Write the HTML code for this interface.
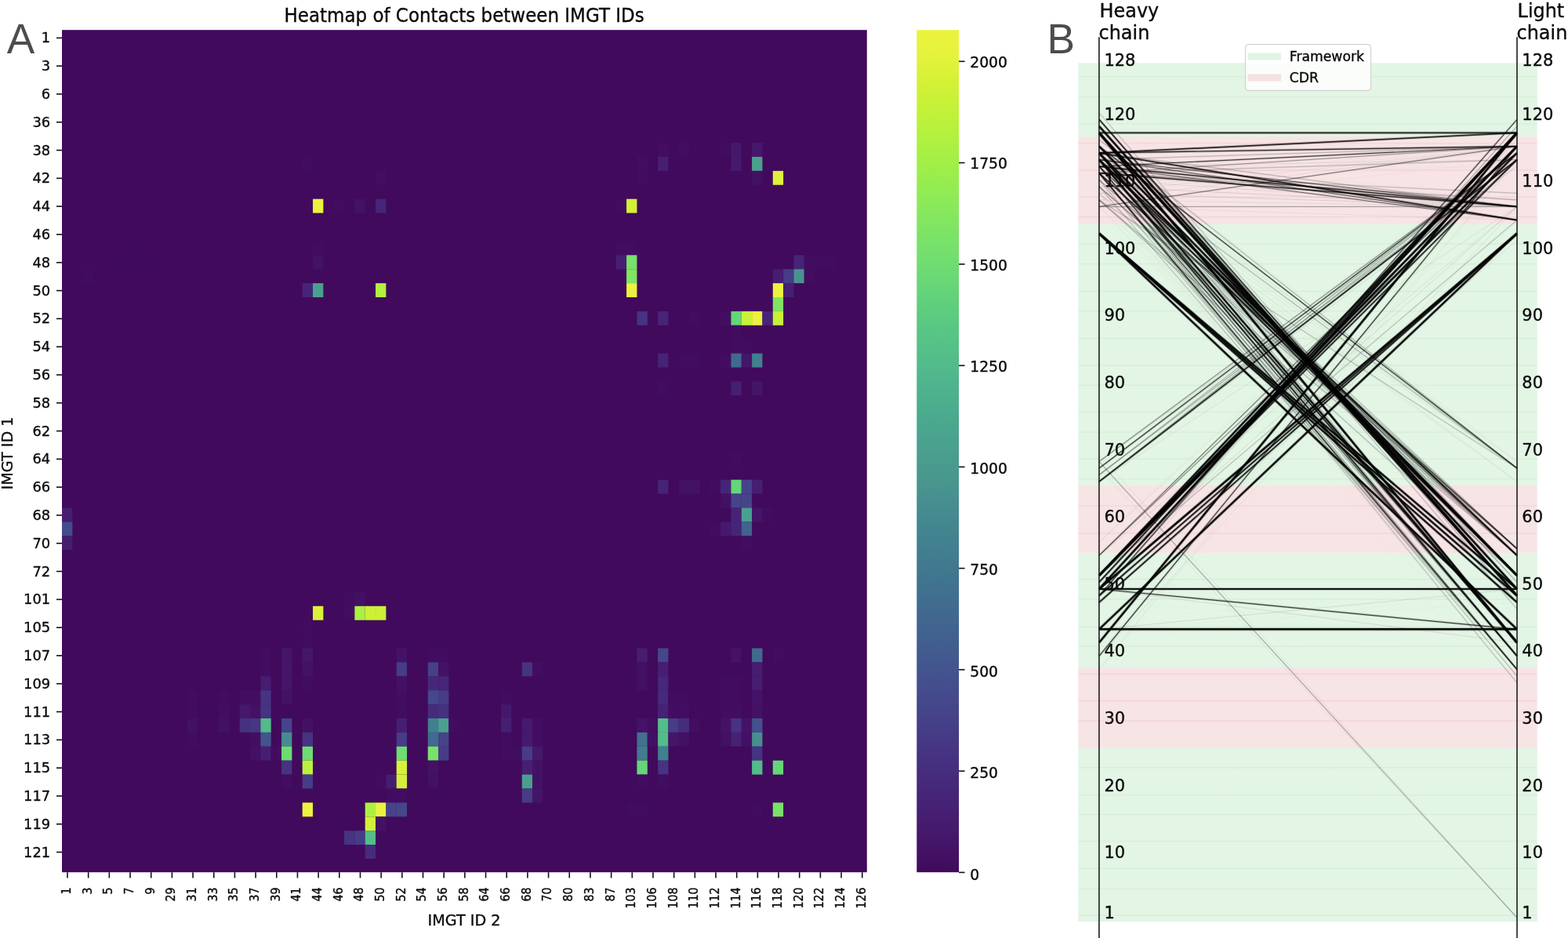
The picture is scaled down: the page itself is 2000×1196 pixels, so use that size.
<!DOCTYPE html>
<html lang="en"><head><meta charset="utf-8"><title>Heatmap of Contacts between IMGT IDs</title>
<style>
html,body{margin:0;padding:0;background:#fff;}
body{width:2000px;height:1196px;overflow:hidden;}
svg{display:block;font-family:"DejaVu Sans", "Liberation Sans", sans-serif;}
text{fill:#0a0a0a;stroke:#0a0a0a;stroke-width:0.35px;stroke-linejoin:round;}
.pl{fill:#4d4d4d;stroke:none;font-size:53.3px;font-family:"Liberation Sans","DejaVu Sans",sans-serif;}
.yt{font-size:17.9px;text-anchor:end;}
.xt{font-size:14.2px;text-anchor:end;}
.ct{font-size:18.8px;}
.al{font-size:19.2px;text-anchor:middle;}
.ti{font-size:23px;text-anchor:middle;}
.pt{font-size:21px;}
.ph{font-size:23.9px;}
.lg{font-size:17.2px;}
.tk{stroke:#111;stroke-width:1.6;}
.ln{stroke:#000;stroke-linecap:butt;}
</style></head><body>
<svg width="2000" height="1196" viewBox="0 0 2000 1196">
<defs><linearGradient id="cb" x1="0" y1="1" x2="0" y2="0">
<stop offset="0.0000" stop-color="#410a5c"/>
<stop offset="0.0312" stop-color="#441467"/>
<stop offset="0.0625" stop-color="#461d70"/>
<stop offset="0.0938" stop-color="#462578"/>
<stop offset="0.1250" stop-color="#462e7f"/>
<stop offset="0.1562" stop-color="#463885"/>
<stop offset="0.1875" stop-color="#454389"/>
<stop offset="0.2188" stop-color="#444d8d"/>
<stop offset="0.2500" stop-color="#42578e"/>
<stop offset="0.2812" stop-color="#41618f"/>
<stop offset="0.3125" stop-color="#416a8f"/>
<stop offset="0.3438" stop-color="#40738f"/>
<stop offset="0.3750" stop-color="#417c8f"/>
<stop offset="0.4062" stop-color="#43858f"/>
<stop offset="0.4375" stop-color="#468e8f"/>
<stop offset="0.4688" stop-color="#49978e"/>
<stop offset="0.5000" stop-color="#4a9f8e"/>
<stop offset="0.5312" stop-color="#4aa78e"/>
<stop offset="0.5625" stop-color="#4cb08d"/>
<stop offset="0.5938" stop-color="#51b88c"/>
<stop offset="0.6250" stop-color="#55c187"/>
<stop offset="0.6562" stop-color="#5bca81"/>
<stop offset="0.6875" stop-color="#63d37a"/>
<stop offset="0.7188" stop-color="#6edc72"/>
<stop offset="0.7500" stop-color="#79e269"/>
<stop offset="0.7812" stop-color="#86e75e"/>
<stop offset="0.8125" stop-color="#93ec52"/>
<stop offset="0.8438" stop-color="#a2ef46"/>
<stop offset="0.8750" stop-color="#b3f13f"/>
<stop offset="0.9062" stop-color="#c4f139"/>
<stop offset="0.9375" stop-color="#d4f136"/>
<stop offset="0.9688" stop-color="#e4f23c"/>
<stop offset="1.0000" stop-color="#ecf33e"/>
</linearGradient>
<filter id="soft" x="-5%" y="-5%" width="110%" height="110%"><feGaussianBlur stdDeviation="0.45"/></filter></defs>
<rect width="2000" height="1196" fill="#fff"/>
<g id="panelA">
<text class="pl" x="8.8" y="67.8">A</text>
<text class="ti" transform="translate(592.1,28.3) scale(1,1.045)">Heatmap of Contacts between IMGT IDs</text>
<g id="heatmap">
<rect x="79.00" y="38.20" width="1026.80" height="1074.00" fill="#410a5c"/>
<rect x="839.10" y="182.10" width="13.34" height="17.90" fill="#430e61"/>
<rect x="865.77" y="182.10" width="13.34" height="17.90" fill="#430e61"/>
<rect x="919.11" y="182.10" width="13.34" height="17.90" fill="#420d60"/>
<rect x="932.44" y="182.10" width="13.34" height="17.90" fill="#45186b"/>
<rect x="959.11" y="182.10" width="13.34" height="17.90" fill="#45186b"/>
<rect x="385.71" y="200.00" width="13.34" height="17.90" fill="#420d60"/>
<rect x="812.43" y="200.00" width="13.34" height="17.90" fill="#430e61"/>
<rect x="839.10" y="200.00" width="13.34" height="17.90" fill="#461f72"/>
<rect x="932.44" y="200.00" width="13.34" height="17.90" fill="#451a6e"/>
<rect x="959.11" y="200.00" width="13.34" height="17.90" fill="#4aa08e"/>
<rect x="479.05" y="217.90" width="13.34" height="17.90" fill="#430e61"/>
<rect x="812.43" y="217.90" width="13.34" height="17.90" fill="#420d60"/>
<rect x="959.11" y="217.90" width="13.34" height="17.90" fill="#431164"/>
<rect x="985.78" y="217.90" width="13.34" height="17.90" fill="#e0f13c"/>
<rect x="399.04" y="253.70" width="13.34" height="17.90" fill="#ecf33e"/>
<rect x="425.71" y="253.70" width="13.34" height="17.90" fill="#420d60"/>
<rect x="452.38" y="253.70" width="13.34" height="17.90" fill="#441265"/>
<rect x="479.05" y="253.70" width="13.34" height="17.90" fill="#462578"/>
<rect x="785.76" y="253.70" width="13.34" height="17.90" fill="#420d60"/>
<rect x="799.09" y="253.70" width="13.34" height="17.90" fill="#d4f137"/>
<rect x="159.01" y="307.40" width="13.34" height="17.90" fill="#410b5d"/>
<rect x="172.35" y="307.40" width="13.34" height="17.90" fill="#410b5d"/>
<rect x="399.04" y="307.40" width="13.34" height="17.90" fill="#420d60"/>
<rect x="785.76" y="307.40" width="13.34" height="17.90" fill="#420d60"/>
<rect x="799.09" y="307.40" width="13.34" height="17.90" fill="#420d60"/>
<rect x="145.68" y="325.30" width="13.34" height="17.90" fill="#410b5d"/>
<rect x="159.01" y="325.30" width="13.34" height="17.90" fill="#410b5d"/>
<rect x="185.68" y="325.30" width="13.34" height="17.90" fill="#410b5d"/>
<rect x="399.04" y="325.30" width="13.34" height="17.90" fill="#441265"/>
<rect x="785.76" y="325.30" width="13.34" height="17.90" fill="#461f72"/>
<rect x="799.09" y="325.30" width="13.34" height="17.90" fill="#77e16a"/>
<rect x="1012.45" y="325.30" width="13.34" height="17.90" fill="#462578"/>
<rect x="1025.79" y="325.30" width="13.34" height="17.90" fill="#420d60"/>
<rect x="1039.12" y="325.30" width="13.34" height="17.90" fill="#420d60"/>
<rect x="1052.46" y="325.30" width="13.34" height="17.90" fill="#420d60"/>
<rect x="92.34" y="343.20" width="13.34" height="17.90" fill="#410b5d"/>
<rect x="105.67" y="343.20" width="13.34" height="17.90" fill="#420c5f"/>
<rect x="119.01" y="343.20" width="13.34" height="17.90" fill="#410b5d"/>
<rect x="145.68" y="343.20" width="13.34" height="17.90" fill="#410b5d"/>
<rect x="799.09" y="343.20" width="13.34" height="17.90" fill="#80e562"/>
<rect x="985.78" y="343.20" width="13.34" height="17.90" fill="#461d70"/>
<rect x="999.12" y="343.20" width="13.34" height="17.90" fill="#463c87"/>
<rect x="1012.45" y="343.20" width="13.34" height="17.90" fill="#48938f"/>
<rect x="1025.79" y="343.20" width="13.34" height="17.90" fill="#420d60"/>
<rect x="385.71" y="361.10" width="13.34" height="17.90" fill="#462578"/>
<rect x="399.04" y="361.10" width="13.34" height="17.90" fill="#4aa08e"/>
<rect x="479.05" y="361.10" width="13.34" height="17.90" fill="#b3f03f"/>
<rect x="799.09" y="361.10" width="13.34" height="17.90" fill="#ecf33e"/>
<rect x="985.78" y="361.10" width="13.34" height="17.90" fill="#ecf33e"/>
<rect x="999.12" y="361.10" width="13.34" height="17.90" fill="#461f72"/>
<rect x="79.00" y="379.00" width="13.34" height="17.90" fill="#410b5d"/>
<rect x="985.78" y="379.00" width="13.34" height="17.90" fill="#80e562"/>
<rect x="812.43" y="396.90" width="13.34" height="17.90" fill="#463382"/>
<rect x="839.10" y="396.90" width="13.34" height="17.90" fill="#462578"/>
<rect x="879.10" y="396.90" width="13.34" height="17.90" fill="#420d60"/>
<rect x="919.11" y="396.90" width="13.34" height="17.90" fill="#430e61"/>
<rect x="932.44" y="396.90" width="13.34" height="17.90" fill="#65d678"/>
<rect x="945.78" y="396.90" width="13.34" height="17.90" fill="#c8f138"/>
<rect x="959.11" y="396.90" width="13.34" height="17.90" fill="#ecf33e"/>
<rect x="972.45" y="396.90" width="13.34" height="17.90" fill="#462578"/>
<rect x="985.78" y="396.90" width="13.34" height="17.90" fill="#c8f138"/>
<rect x="932.44" y="414.80" width="13.34" height="17.90" fill="#420d60"/>
<rect x="932.44" y="432.70" width="13.34" height="17.90" fill="#420d60"/>
<rect x="945.78" y="432.70" width="13.34" height="17.90" fill="#420d60"/>
<rect x="839.10" y="450.60" width="13.34" height="17.90" fill="#462376"/>
<rect x="865.77" y="450.60" width="13.34" height="17.90" fill="#420d60"/>
<rect x="879.10" y="450.60" width="13.34" height="17.90" fill="#420d60"/>
<rect x="919.11" y="450.60" width="13.34" height="17.90" fill="#420d60"/>
<rect x="932.44" y="450.60" width="13.34" height="17.90" fill="#416a8f"/>
<rect x="945.78" y="450.60" width="13.34" height="17.90" fill="#451669"/>
<rect x="959.11" y="450.60" width="13.34" height="17.90" fill="#427f8f"/>
<rect x="839.10" y="486.40" width="13.34" height="17.90" fill="#420d60"/>
<rect x="932.44" y="486.40" width="13.34" height="17.90" fill="#461f72"/>
<rect x="959.11" y="486.40" width="13.34" height="17.90" fill="#441568"/>
<rect x="932.44" y="575.90" width="13.34" height="17.90" fill="#420d60"/>
<rect x="839.10" y="611.70" width="13.34" height="17.90" fill="#462376"/>
<rect x="865.77" y="611.70" width="13.34" height="17.90" fill="#441265"/>
<rect x="879.10" y="611.70" width="13.34" height="17.90" fill="#441265"/>
<rect x="905.77" y="611.70" width="13.34" height="17.90" fill="#420d60"/>
<rect x="919.11" y="611.70" width="13.34" height="17.90" fill="#462578"/>
<rect x="932.44" y="611.70" width="13.34" height="17.90" fill="#65d678"/>
<rect x="945.78" y="611.70" width="13.34" height="17.90" fill="#45448a"/>
<rect x="959.11" y="611.70" width="13.34" height="17.90" fill="#461f72"/>
<rect x="919.11" y="629.60" width="13.34" height="17.90" fill="#431164"/>
<rect x="932.44" y="629.60" width="13.34" height="17.90" fill="#45448a"/>
<rect x="945.78" y="629.60" width="13.34" height="17.90" fill="#45448a"/>
<rect x="79.00" y="647.50" width="13.34" height="17.90" fill="#461d70"/>
<rect x="932.44" y="647.50" width="13.34" height="17.90" fill="#462376"/>
<rect x="945.78" y="647.50" width="13.34" height="17.90" fill="#4aa08e"/>
<rect x="959.11" y="647.50" width="13.34" height="17.90" fill="#441568"/>
<rect x="972.45" y="647.50" width="13.34" height="17.90" fill="#420d60"/>
<rect x="79.00" y="665.40" width="13.34" height="17.90" fill="#444c8c"/>
<rect x="905.77" y="665.40" width="13.34" height="17.90" fill="#420d60"/>
<rect x="919.11" y="665.40" width="13.34" height="17.90" fill="#451a6e"/>
<rect x="932.44" y="665.40" width="13.34" height="17.90" fill="#462578"/>
<rect x="945.78" y="665.40" width="13.34" height="17.90" fill="#42628f"/>
<rect x="79.00" y="683.30" width="13.34" height="17.90" fill="#461e71"/>
<rect x="945.78" y="683.30" width="13.34" height="17.90" fill="#420d60"/>
<rect x="439.05" y="754.90" width="13.34" height="17.90" fill="#420d60"/>
<rect x="452.38" y="754.90" width="13.34" height="17.90" fill="#431164"/>
<rect x="399.04" y="772.80" width="13.34" height="17.90" fill="#dcf139"/>
<rect x="439.05" y="772.80" width="13.34" height="17.90" fill="#430e61"/>
<rect x="452.38" y="772.80" width="13.34" height="17.90" fill="#acf042"/>
<rect x="465.72" y="772.80" width="13.34" height="17.90" fill="#ccf137"/>
<rect x="479.05" y="772.80" width="13.34" height="17.90" fill="#ccf137"/>
<rect x="385.71" y="790.70" width="13.34" height="17.90" fill="#420c5f"/>
<rect x="385.71" y="808.60" width="13.34" height="17.90" fill="#420c5f"/>
<rect x="332.37" y="826.50" width="13.34" height="17.90" fill="#420d60"/>
<rect x="359.04" y="826.50" width="13.34" height="17.90" fill="#441568"/>
<rect x="385.71" y="826.50" width="13.34" height="17.90" fill="#45176a"/>
<rect x="505.72" y="826.50" width="13.34" height="17.90" fill="#441367"/>
<rect x="545.73" y="826.50" width="13.34" height="17.90" fill="#420d60"/>
<rect x="559.06" y="826.50" width="13.34" height="17.90" fill="#420d60"/>
<rect x="812.43" y="826.50" width="13.34" height="17.90" fill="#461d70"/>
<rect x="839.10" y="826.50" width="13.34" height="17.90" fill="#45478b"/>
<rect x="932.44" y="826.50" width="13.34" height="17.90" fill="#441367"/>
<rect x="959.11" y="826.50" width="13.34" height="17.90" fill="#416a8f"/>
<rect x="985.78" y="826.50" width="13.34" height="17.90" fill="#420c5f"/>
<rect x="332.37" y="844.40" width="13.34" height="17.90" fill="#430e61"/>
<rect x="359.04" y="844.40" width="13.34" height="17.90" fill="#441568"/>
<rect x="385.71" y="844.40" width="13.34" height="17.90" fill="#441265"/>
<rect x="505.72" y="844.40" width="13.34" height="17.90" fill="#463c87"/>
<rect x="545.73" y="844.40" width="13.34" height="17.90" fill="#464088"/>
<rect x="559.06" y="844.40" width="13.34" height="17.90" fill="#441265"/>
<rect x="665.74" y="844.40" width="13.34" height="17.90" fill="#463382"/>
<rect x="679.08" y="844.40" width="13.34" height="17.90" fill="#430e61"/>
<rect x="812.43" y="844.40" width="13.34" height="17.90" fill="#431164"/>
<rect x="839.10" y="844.40" width="13.34" height="17.90" fill="#461f72"/>
<rect x="959.11" y="844.40" width="13.34" height="17.90" fill="#461d70"/>
<rect x="332.37" y="862.30" width="13.34" height="17.90" fill="#461d70"/>
<rect x="359.04" y="862.30" width="13.34" height="17.90" fill="#441568"/>
<rect x="385.71" y="862.30" width="13.34" height="17.90" fill="#420d60"/>
<rect x="505.72" y="862.30" width="13.34" height="17.90" fill="#431164"/>
<rect x="545.73" y="862.30" width="13.34" height="17.90" fill="#46287b"/>
<rect x="559.06" y="862.30" width="13.34" height="17.90" fill="#462578"/>
<rect x="812.43" y="862.30" width="13.34" height="17.90" fill="#431164"/>
<rect x="839.10" y="862.30" width="13.34" height="17.90" fill="#46287b"/>
<rect x="919.11" y="862.30" width="13.34" height="17.90" fill="#420c5f"/>
<rect x="932.44" y="862.30" width="13.34" height="17.90" fill="#420c5f"/>
<rect x="959.11" y="862.30" width="13.34" height="17.90" fill="#461d70"/>
<rect x="239.02" y="880.20" width="13.34" height="17.90" fill="#420c5f"/>
<rect x="279.03" y="880.20" width="13.34" height="17.90" fill="#420c5f"/>
<rect x="305.70" y="880.20" width="13.34" height="17.90" fill="#430e61"/>
<rect x="319.03" y="880.20" width="13.34" height="17.90" fill="#430e61"/>
<rect x="332.37" y="880.20" width="13.34" height="17.90" fill="#463382"/>
<rect x="359.04" y="880.20" width="13.34" height="17.90" fill="#441265"/>
<rect x="505.72" y="880.20" width="13.34" height="17.90" fill="#430e61"/>
<rect x="545.73" y="880.20" width="13.34" height="17.90" fill="#45478b"/>
<rect x="559.06" y="880.20" width="13.34" height="17.90" fill="#463c87"/>
<rect x="639.07" y="880.20" width="13.34" height="17.90" fill="#420d60"/>
<rect x="839.10" y="880.20" width="13.34" height="17.90" fill="#46297b"/>
<rect x="852.43" y="880.20" width="13.34" height="17.90" fill="#420c5f"/>
<rect x="865.77" y="880.20" width="13.34" height="17.90" fill="#420c5f"/>
<rect x="919.11" y="880.20" width="13.34" height="17.90" fill="#420c5f"/>
<rect x="932.44" y="880.20" width="13.34" height="17.90" fill="#420c5f"/>
<rect x="959.11" y="880.20" width="13.34" height="17.90" fill="#441367"/>
<rect x="239.02" y="898.10" width="13.34" height="17.90" fill="#420d60"/>
<rect x="279.03" y="898.10" width="13.34" height="17.90" fill="#430e61"/>
<rect x="305.70" y="898.10" width="13.34" height="17.90" fill="#45186b"/>
<rect x="319.03" y="898.10" width="13.34" height="17.90" fill="#441265"/>
<rect x="332.37" y="898.10" width="13.34" height="17.90" fill="#463382"/>
<rect x="505.72" y="898.10" width="13.34" height="17.90" fill="#420d60"/>
<rect x="545.73" y="898.10" width="13.34" height="17.90" fill="#462b7d"/>
<rect x="559.06" y="898.10" width="13.34" height="17.90" fill="#463080"/>
<rect x="639.07" y="898.10" width="13.34" height="17.90" fill="#45186b"/>
<rect x="839.10" y="898.10" width="13.34" height="17.90" fill="#462174"/>
<rect x="852.43" y="898.10" width="13.34" height="17.90" fill="#430e61"/>
<rect x="865.77" y="898.10" width="13.34" height="17.90" fill="#430e61"/>
<rect x="919.11" y="898.10" width="13.34" height="17.90" fill="#430e61"/>
<rect x="932.44" y="898.10" width="13.34" height="17.90" fill="#430e61"/>
<rect x="959.11" y="898.10" width="13.34" height="17.90" fill="#441265"/>
<rect x="239.02" y="916.00" width="13.34" height="17.90" fill="#431164"/>
<rect x="279.03" y="916.00" width="13.34" height="17.90" fill="#431164"/>
<rect x="305.70" y="916.00" width="13.34" height="17.90" fill="#463080"/>
<rect x="319.03" y="916.00" width="13.34" height="17.90" fill="#463784"/>
<rect x="332.37" y="916.00" width="13.34" height="17.90" fill="#53ba8b"/>
<rect x="359.04" y="916.00" width="13.34" height="17.90" fill="#45448a"/>
<rect x="385.71" y="916.00" width="13.34" height="17.90" fill="#431164"/>
<rect x="505.72" y="916.00" width="13.34" height="17.90" fill="#461f72"/>
<rect x="545.73" y="916.00" width="13.34" height="17.90" fill="#427f8f"/>
<rect x="559.06" y="916.00" width="13.34" height="17.90" fill="#4aa08e"/>
<rect x="572.40" y="916.00" width="13.34" height="17.90" fill="#420d60"/>
<rect x="639.07" y="916.00" width="13.34" height="17.90" fill="#461f72"/>
<rect x="665.74" y="916.00" width="13.34" height="17.90" fill="#451a6e"/>
<rect x="679.08" y="916.00" width="13.34" height="17.90" fill="#430e61"/>
<rect x="812.43" y="916.00" width="13.34" height="17.90" fill="#441367"/>
<rect x="825.76" y="916.00" width="13.34" height="17.90" fill="#430e61"/>
<rect x="839.10" y="916.00" width="13.34" height="17.90" fill="#53be89"/>
<rect x="852.43" y="916.00" width="13.34" height="17.90" fill="#463c87"/>
<rect x="865.77" y="916.00" width="13.34" height="17.90" fill="#462b7d"/>
<rect x="879.10" y="916.00" width="13.34" height="17.90" fill="#430e61"/>
<rect x="919.11" y="916.00" width="13.34" height="17.90" fill="#441367"/>
<rect x="932.44" y="916.00" width="13.34" height="17.90" fill="#463382"/>
<rect x="945.78" y="916.00" width="13.34" height="17.90" fill="#441367"/>
<rect x="959.11" y="916.00" width="13.34" height="17.90" fill="#43518d"/>
<rect x="239.02" y="933.90" width="13.34" height="17.90" fill="#420d60"/>
<rect x="319.03" y="933.90" width="13.34" height="17.90" fill="#430e61"/>
<rect x="332.37" y="933.90" width="13.34" height="17.90" fill="#43538e"/>
<rect x="359.04" y="933.90" width="13.34" height="17.90" fill="#468c8f"/>
<rect x="385.71" y="933.90" width="13.34" height="17.90" fill="#463382"/>
<rect x="505.72" y="933.90" width="13.34" height="17.90" fill="#463c87"/>
<rect x="545.73" y="933.90" width="13.34" height="17.90" fill="#416a8f"/>
<rect x="559.06" y="933.90" width="13.34" height="17.90" fill="#45448a"/>
<rect x="639.07" y="933.90" width="13.34" height="17.90" fill="#420d60"/>
<rect x="665.74" y="933.90" width="13.34" height="17.90" fill="#451a6e"/>
<rect x="679.08" y="933.90" width="13.34" height="17.90" fill="#430e61"/>
<rect x="812.43" y="933.90" width="13.34" height="17.90" fill="#40718f"/>
<rect x="825.76" y="933.90" width="13.34" height="17.90" fill="#431164"/>
<rect x="839.10" y="933.90" width="13.34" height="17.90" fill="#53be89"/>
<rect x="852.43" y="933.90" width="13.34" height="17.90" fill="#441568"/>
<rect x="865.77" y="933.90" width="13.34" height="17.90" fill="#431164"/>
<rect x="919.11" y="933.90" width="13.34" height="17.90" fill="#431164"/>
<rect x="932.44" y="933.90" width="13.34" height="17.90" fill="#462174"/>
<rect x="945.78" y="933.90" width="13.34" height="17.90" fill="#431164"/>
<rect x="959.11" y="933.90" width="13.34" height="17.90" fill="#478f8f"/>
<rect x="319.03" y="951.80" width="13.34" height="17.90" fill="#431164"/>
<rect x="332.37" y="951.80" width="13.34" height="17.90" fill="#461f72"/>
<rect x="345.70" y="951.80" width="13.34" height="17.90" fill="#420d60"/>
<rect x="359.04" y="951.80" width="13.34" height="17.90" fill="#6ddc72"/>
<rect x="385.71" y="951.80" width="13.34" height="17.90" fill="#6ddc72"/>
<rect x="505.72" y="951.80" width="13.34" height="17.90" fill="#6ddc72"/>
<rect x="545.73" y="951.80" width="13.34" height="17.90" fill="#79e269"/>
<rect x="559.06" y="951.80" width="13.34" height="17.90" fill="#463c87"/>
<rect x="639.07" y="951.80" width="13.34" height="17.90" fill="#420d60"/>
<rect x="652.41" y="951.80" width="13.34" height="17.90" fill="#420d60"/>
<rect x="665.74" y="951.80" width="13.34" height="17.90" fill="#463c87"/>
<rect x="679.08" y="951.80" width="13.34" height="17.90" fill="#45186b"/>
<rect x="812.43" y="951.80" width="13.34" height="17.90" fill="#417c8f"/>
<rect x="839.10" y="951.80" width="13.34" height="17.90" fill="#427f8f"/>
<rect x="959.11" y="951.80" width="13.34" height="17.90" fill="#463382"/>
<rect x="359.04" y="969.70" width="13.34" height="17.90" fill="#463382"/>
<rect x="385.71" y="969.70" width="13.34" height="17.90" fill="#bbf13c"/>
<rect x="505.72" y="969.70" width="13.34" height="17.90" fill="#d4f137"/>
<rect x="545.73" y="969.70" width="13.34" height="17.90" fill="#441265"/>
<rect x="665.74" y="969.70" width="13.34" height="17.90" fill="#461f72"/>
<rect x="679.08" y="969.70" width="13.34" height="17.90" fill="#441265"/>
<rect x="812.43" y="969.70" width="13.34" height="17.90" fill="#65d678"/>
<rect x="839.10" y="969.70" width="13.34" height="17.90" fill="#463382"/>
<rect x="959.11" y="969.70" width="13.34" height="17.90" fill="#53ba8b"/>
<rect x="985.78" y="969.70" width="13.34" height="17.90" fill="#65d678"/>
<rect x="359.04" y="987.60" width="13.34" height="17.90" fill="#430e61"/>
<rect x="385.71" y="987.60" width="13.34" height="17.90" fill="#463c87"/>
<rect x="479.05" y="987.60" width="13.34" height="17.90" fill="#420c5f"/>
<rect x="492.39" y="987.60" width="13.34" height="17.90" fill="#461d70"/>
<rect x="505.72" y="987.60" width="13.34" height="17.90" fill="#d4f137"/>
<rect x="545.73" y="987.60" width="13.34" height="17.90" fill="#431164"/>
<rect x="665.74" y="987.60" width="13.34" height="17.90" fill="#4aa08e"/>
<rect x="679.08" y="987.60" width="13.34" height="17.90" fill="#441265"/>
<rect x="812.43" y="987.60" width="13.34" height="17.90" fill="#420d60"/>
<rect x="839.10" y="987.60" width="13.34" height="17.90" fill="#420d60"/>
<rect x="492.39" y="1005.50" width="13.34" height="17.90" fill="#420d60"/>
<rect x="505.72" y="1005.50" width="13.34" height="17.90" fill="#420d60"/>
<rect x="665.74" y="1005.50" width="13.34" height="17.90" fill="#463c87"/>
<rect x="679.08" y="1005.50" width="13.34" height="17.90" fill="#441568"/>
<rect x="385.71" y="1023.40" width="13.34" height="17.90" fill="#ecf33e"/>
<rect x="465.72" y="1023.40" width="13.34" height="17.90" fill="#acf042"/>
<rect x="479.05" y="1023.40" width="13.34" height="17.90" fill="#ecf33e"/>
<rect x="492.39" y="1023.40" width="13.34" height="17.90" fill="#45448a"/>
<rect x="505.72" y="1023.40" width="13.34" height="17.90" fill="#45478b"/>
<rect x="799.09" y="1023.40" width="13.34" height="17.90" fill="#420d60"/>
<rect x="812.43" y="1023.40" width="13.34" height="17.90" fill="#420d60"/>
<rect x="959.11" y="1023.40" width="13.34" height="17.90" fill="#420c5f"/>
<rect x="985.78" y="1023.40" width="13.34" height="17.90" fill="#79e269"/>
<rect x="465.72" y="1041.30" width="13.34" height="17.90" fill="#d4f137"/>
<rect x="479.05" y="1041.30" width="13.34" height="17.90" fill="#441265"/>
<rect x="439.05" y="1059.20" width="13.34" height="17.90" fill="#463382"/>
<rect x="452.38" y="1059.20" width="13.34" height="17.90" fill="#463c87"/>
<rect x="465.72" y="1059.20" width="13.34" height="17.90" fill="#53be89"/>
<rect x="465.72" y="1077.10" width="13.34" height="17.90" fill="#462b7d"/>
</g>
<g id="yaxis">
<line class="tk" x1="72" y1="48.35" x2="79.00" y2="48.35"/>
<text class="yt" x="64.2" y="54.45">1</text>
<line class="tk" x1="72" y1="84.15" x2="79.00" y2="84.15"/>
<text class="yt" x="64.2" y="90.25">3</text>
<line class="tk" x1="72" y1="119.95" x2="79.00" y2="119.95"/>
<text class="yt" x="64.2" y="126.05">6</text>
<line class="tk" x1="72" y1="155.75" x2="79.00" y2="155.75"/>
<text class="yt" x="64.2" y="161.85">36</text>
<line class="tk" x1="72" y1="191.55" x2="79.00" y2="191.55"/>
<text class="yt" x="64.2" y="197.65">38</text>
<line class="tk" x1="72" y1="227.35" x2="79.00" y2="227.35"/>
<text class="yt" x="64.2" y="233.45">42</text>
<line class="tk" x1="72" y1="263.15" x2="79.00" y2="263.15"/>
<text class="yt" x="64.2" y="269.25">44</text>
<line class="tk" x1="72" y1="298.95" x2="79.00" y2="298.95"/>
<text class="yt" x="64.2" y="305.05">46</text>
<line class="tk" x1="72" y1="334.75" x2="79.00" y2="334.75"/>
<text class="yt" x="64.2" y="340.85">48</text>
<line class="tk" x1="72" y1="370.55" x2="79.00" y2="370.55"/>
<text class="yt" x="64.2" y="376.65">50</text>
<line class="tk" x1="72" y1="406.35" x2="79.00" y2="406.35"/>
<text class="yt" x="64.2" y="412.45">52</text>
<line class="tk" x1="72" y1="442.15" x2="79.00" y2="442.15"/>
<text class="yt" x="64.2" y="448.25">54</text>
<line class="tk" x1="72" y1="477.95" x2="79.00" y2="477.95"/>
<text class="yt" x="64.2" y="484.05">56</text>
<line class="tk" x1="72" y1="513.75" x2="79.00" y2="513.75"/>
<text class="yt" x="64.2" y="519.85">58</text>
<line class="tk" x1="72" y1="549.55" x2="79.00" y2="549.55"/>
<text class="yt" x="64.2" y="555.65">62</text>
<line class="tk" x1="72" y1="585.35" x2="79.00" y2="585.35"/>
<text class="yt" x="64.2" y="591.45">64</text>
<line class="tk" x1="72" y1="621.15" x2="79.00" y2="621.15"/>
<text class="yt" x="64.2" y="627.25">66</text>
<line class="tk" x1="72" y1="656.95" x2="79.00" y2="656.95"/>
<text class="yt" x="64.2" y="663.05">68</text>
<line class="tk" x1="72" y1="692.75" x2="79.00" y2="692.75"/>
<text class="yt" x="64.2" y="698.85">70</text>
<line class="tk" x1="72" y1="728.55" x2="79.00" y2="728.55"/>
<text class="yt" x="64.2" y="734.65">72</text>
<line class="tk" x1="72" y1="764.35" x2="79.00" y2="764.35"/>
<text class="yt" x="64.2" y="770.45">101</text>
<line class="tk" x1="72" y1="800.15" x2="79.00" y2="800.15"/>
<text class="yt" x="64.2" y="806.25">105</text>
<line class="tk" x1="72" y1="835.95" x2="79.00" y2="835.95"/>
<text class="yt" x="64.2" y="842.05">107</text>
<line class="tk" x1="72" y1="871.75" x2="79.00" y2="871.75"/>
<text class="yt" x="64.2" y="877.85">109</text>
<line class="tk" x1="72" y1="907.55" x2="79.00" y2="907.55"/>
<text class="yt" x="64.2" y="913.65">111</text>
<line class="tk" x1="72" y1="943.35" x2="79.00" y2="943.35"/>
<text class="yt" x="64.2" y="949.45">113</text>
<line class="tk" x1="72" y1="979.15" x2="79.00" y2="979.15"/>
<text class="yt" x="64.2" y="985.25">115</text>
<line class="tk" x1="72" y1="1014.95" x2="79.00" y2="1014.95"/>
<text class="yt" x="64.2" y="1021.05">117</text>
<line class="tk" x1="72" y1="1050.75" x2="79.00" y2="1050.75"/>
<text class="yt" x="64.2" y="1056.85">119</text>
<line class="tk" x1="72" y1="1086.55" x2="79.00" y2="1086.55"/>
<text class="yt" x="64.2" y="1092.65">121</text>
<text class="al" transform="translate(15.5,578) rotate(-90)">IMGT ID 1</text>
</g>
<g id="xaxis">
<line class="tk" x1="86.00" y1="1112.20" x2="86.00" y2="1119.5"/>
<text class="xt" transform="translate(89.90,1131.5) rotate(-90) scale(1,1.08)">1</text>
<line class="tk" x1="112.68" y1="1112.20" x2="112.68" y2="1119.5"/>
<text class="xt" transform="translate(116.58,1131.5) rotate(-90) scale(1,1.08)">3</text>
<line class="tk" x1="139.36" y1="1112.20" x2="139.36" y2="1119.5"/>
<text class="xt" transform="translate(143.26,1131.5) rotate(-90) scale(1,1.08)">5</text>
<line class="tk" x1="166.03" y1="1112.20" x2="166.03" y2="1119.5"/>
<text class="xt" transform="translate(169.93,1131.5) rotate(-90) scale(1,1.08)">7</text>
<line class="tk" x1="192.71" y1="1112.20" x2="192.71" y2="1119.5"/>
<text class="xt" transform="translate(196.61,1131.5) rotate(-90) scale(1,1.08)">9</text>
<line class="tk" x1="219.39" y1="1112.20" x2="219.39" y2="1119.5"/>
<text class="xt" transform="translate(223.29,1131.5) rotate(-90) scale(1,1.08)">29</text>
<line class="tk" x1="246.07" y1="1112.20" x2="246.07" y2="1119.5"/>
<text class="xt" transform="translate(249.97,1131.5) rotate(-90) scale(1,1.08)">31</text>
<line class="tk" x1="272.75" y1="1112.20" x2="272.75" y2="1119.5"/>
<text class="xt" transform="translate(276.65,1131.5) rotate(-90) scale(1,1.08)">33</text>
<line class="tk" x1="299.42" y1="1112.20" x2="299.42" y2="1119.5"/>
<text class="xt" transform="translate(303.32,1131.5) rotate(-90) scale(1,1.08)">35</text>
<line class="tk" x1="326.10" y1="1112.20" x2="326.10" y2="1119.5"/>
<text class="xt" transform="translate(330.00,1131.5) rotate(-90) scale(1,1.08)">37</text>
<line class="tk" x1="352.78" y1="1112.20" x2="352.78" y2="1119.5"/>
<text class="xt" transform="translate(356.68,1131.5) rotate(-90) scale(1,1.08)">39</text>
<line class="tk" x1="379.46" y1="1112.20" x2="379.46" y2="1119.5"/>
<text class="xt" transform="translate(383.36,1131.5) rotate(-90) scale(1,1.08)">41</text>
<line class="tk" x1="406.14" y1="1112.20" x2="406.14" y2="1119.5"/>
<text class="xt" transform="translate(410.04,1131.5) rotate(-90) scale(1,1.08)">44</text>
<line class="tk" x1="432.81" y1="1112.20" x2="432.81" y2="1119.5"/>
<text class="xt" transform="translate(436.71,1131.5) rotate(-90) scale(1,1.08)">46</text>
<line class="tk" x1="459.49" y1="1112.20" x2="459.49" y2="1119.5"/>
<text class="xt" transform="translate(463.39,1131.5) rotate(-90) scale(1,1.08)">48</text>
<line class="tk" x1="486.17" y1="1112.20" x2="486.17" y2="1119.5"/>
<text class="xt" transform="translate(490.07,1131.5) rotate(-90) scale(1,1.08)">50</text>
<line class="tk" x1="512.85" y1="1112.20" x2="512.85" y2="1119.5"/>
<text class="xt" transform="translate(516.75,1131.5) rotate(-90) scale(1,1.08)">52</text>
<line class="tk" x1="539.53" y1="1112.20" x2="539.53" y2="1119.5"/>
<text class="xt" transform="translate(543.43,1131.5) rotate(-90) scale(1,1.08)">54</text>
<line class="tk" x1="566.20" y1="1112.20" x2="566.20" y2="1119.5"/>
<text class="xt" transform="translate(570.10,1131.5) rotate(-90) scale(1,1.08)">56</text>
<line class="tk" x1="592.88" y1="1112.20" x2="592.88" y2="1119.5"/>
<text class="xt" transform="translate(596.78,1131.5) rotate(-90) scale(1,1.08)">58</text>
<line class="tk" x1="619.56" y1="1112.20" x2="619.56" y2="1119.5"/>
<text class="xt" transform="translate(623.46,1131.5) rotate(-90) scale(1,1.08)">64</text>
<line class="tk" x1="646.24" y1="1112.20" x2="646.24" y2="1119.5"/>
<text class="xt" transform="translate(650.14,1131.5) rotate(-90) scale(1,1.08)">66</text>
<line class="tk" x1="672.92" y1="1112.20" x2="672.92" y2="1119.5"/>
<text class="xt" transform="translate(676.82,1131.5) rotate(-90) scale(1,1.08)">68</text>
<line class="tk" x1="699.59" y1="1112.20" x2="699.59" y2="1119.5"/>
<text class="xt" transform="translate(703.49,1131.5) rotate(-90) scale(1,1.08)">70</text>
<line class="tk" x1="726.27" y1="1112.20" x2="726.27" y2="1119.5"/>
<text class="xt" transform="translate(730.17,1131.5) rotate(-90) scale(1,1.08)">80</text>
<line class="tk" x1="752.95" y1="1112.20" x2="752.95" y2="1119.5"/>
<text class="xt" transform="translate(756.85,1131.5) rotate(-90) scale(1,1.08)">83</text>
<line class="tk" x1="779.63" y1="1112.20" x2="779.63" y2="1119.5"/>
<text class="xt" transform="translate(783.53,1131.5) rotate(-90) scale(1,1.08)">87</text>
<line class="tk" x1="806.31" y1="1112.20" x2="806.31" y2="1119.5"/>
<text class="xt" transform="translate(810.21,1131.5) rotate(-90) scale(1,1.08)">103</text>
<line class="tk" x1="832.98" y1="1112.20" x2="832.98" y2="1119.5"/>
<text class="xt" transform="translate(836.88,1131.5) rotate(-90) scale(1,1.08)">106</text>
<line class="tk" x1="859.66" y1="1112.20" x2="859.66" y2="1119.5"/>
<text class="xt" transform="translate(863.56,1131.5) rotate(-90) scale(1,1.08)">108</text>
<line class="tk" x1="886.34" y1="1112.20" x2="886.34" y2="1119.5"/>
<text class="xt" transform="translate(890.24,1131.5) rotate(-90) scale(1,1.08)">110</text>
<line class="tk" x1="913.02" y1="1112.20" x2="913.02" y2="1119.5"/>
<text class="xt" transform="translate(916.92,1131.5) rotate(-90) scale(1,1.08)">112</text>
<line class="tk" x1="939.70" y1="1112.20" x2="939.70" y2="1119.5"/>
<text class="xt" transform="translate(943.60,1131.5) rotate(-90) scale(1,1.08)">114</text>
<line class="tk" x1="966.37" y1="1112.20" x2="966.37" y2="1119.5"/>
<text class="xt" transform="translate(970.27,1131.5) rotate(-90) scale(1,1.08)">116</text>
<line class="tk" x1="993.05" y1="1112.20" x2="993.05" y2="1119.5"/>
<text class="xt" transform="translate(996.95,1131.5) rotate(-90) scale(1,1.08)">118</text>
<line class="tk" x1="1019.73" y1="1112.20" x2="1019.73" y2="1119.5"/>
<text class="xt" transform="translate(1023.63,1131.5) rotate(-90) scale(1,1.08)">120</text>
<line class="tk" x1="1046.41" y1="1112.20" x2="1046.41" y2="1119.5"/>
<text class="xt" transform="translate(1050.31,1131.5) rotate(-90) scale(1,1.08)">122</text>
<line class="tk" x1="1073.09" y1="1112.20" x2="1073.09" y2="1119.5"/>
<text class="xt" transform="translate(1076.99,1131.5) rotate(-90) scale(1,1.08)">124</text>
<line class="tk" x1="1099.76" y1="1112.20" x2="1099.76" y2="1119.5"/>
<text class="xt" transform="translate(1103.66,1131.5) rotate(-90) scale(1,1.08)">126</text>
<text class="al" x="592" y="1180">IMGT ID 2</text>
</g>
<g id="colorbar">
<rect x="1169.3" y="38.20" width="53.8" height="1074.00" fill="url(#cb)"/>
<line class="tk" x1="1223.1" y1="1112.40" x2="1230.6" y2="1112.40"/>
<text class="ct" x="1237.2" y="1121.75">0</text>
<line class="tk" x1="1223.1" y1="983.14" x2="1230.6" y2="983.14"/>
<text class="ct" x="1237.2" y="992.23">250</text>
<line class="tk" x1="1223.1" y1="853.88" x2="1230.6" y2="853.88"/>
<text class="ct" x="1237.2" y="862.70">500</text>
<line class="tk" x1="1223.1" y1="724.61" x2="1230.6" y2="724.61"/>
<text class="ct" x="1237.2" y="733.18">750</text>
<line class="tk" x1="1223.1" y1="595.35" x2="1230.6" y2="595.35"/>
<text class="ct" x="1237.2" y="603.65">1000</text>
<line class="tk" x1="1223.1" y1="466.09" x2="1230.6" y2="466.09"/>
<text class="ct" x="1237.2" y="474.12">1250</text>
<line class="tk" x1="1223.1" y1="336.82" x2="1230.6" y2="336.82"/>
<text class="ct" x="1237.2" y="344.60">1500</text>
<line class="tk" x1="1223.1" y1="207.56" x2="1230.6" y2="207.56"/>
<text class="ct" x="1237.2" y="215.08">1750</text>
<line class="tk" x1="1223.1" y1="78.30" x2="1230.6" y2="78.30"/>
<text class="ct" x="1237.2" y="85.55">2000</text>
</g>
</g>
<g id="panelB">
<text class="pl" x="1335.6" y="68">B</text>
<g id="bands">
<rect x="1375.3" y="80.3" width="585.4" height="93.7" fill="#e3f5e5"/>
<rect x="1375.3" y="174.0" width="585.4" height="111.9" fill="#f7e4e5"/>
<rect x="1375.3" y="285.9" width="585.4" height="332.9" fill="#e3f5e5"/>
<rect x="1375.3" y="618.8" width="585.4" height="86.3" fill="#f7e4e5"/>
<rect x="1375.3" y="705.1" width="585.4" height="146.0" fill="#e3f5e5"/>
<rect x="1375.3" y="851.1" width="585.4" height="102.7" fill="#f7e4e5"/>
<rect x="1375.3" y="953.8" width="585.4" height="221.4" fill="#e3f5e5"/>
<rect x="1375.3" y="97.0" width="585.4" height="1.3" fill="#d7eed9"/>
<rect x="1375.3" y="122.5" width="585.4" height="1.3" fill="#d7eed9"/>
<rect x="1375.3" y="157.3" width="585.4" height="1.3" fill="#d7eed9"/>
<rect x="1375.3" y="182.2" width="585.4" height="1.3" fill="#f5d3d8"/>
<rect x="1375.3" y="216.4" width="585.4" height="1.3" fill="#f5d3d8"/>
<rect x="1375.3" y="250.6" width="585.4" height="1.3" fill="#f5d3d8"/>
<rect x="1375.3" y="276.1" width="585.4" height="1.3" fill="#f5d3d8"/>
<rect x="1375.3" y="310.2" width="585.4" height="1.3" fill="#d7eed9"/>
<rect x="1375.3" y="335.9" width="585.4" height="1.3" fill="#d7eed9"/>
<rect x="1375.3" y="370.9" width="585.4" height="1.3" fill="#d7eed9"/>
<rect x="1375.3" y="396.1" width="585.4" height="1.3" fill="#d7eed9"/>
<rect x="1375.3" y="430.9" width="585.4" height="1.3" fill="#d7eed9"/>
<rect x="1375.3" y="465.1" width="585.4" height="1.3" fill="#d7eed9"/>
<rect x="1375.3" y="490.6" width="585.4" height="1.3" fill="#d7eed9"/>
<rect x="1375.3" y="524.8" width="585.4" height="1.3" fill="#d7eed9"/>
<rect x="1375.3" y="550.4" width="585.4" height="1.3" fill="#d7eed9"/>
<rect x="1375.3" y="584.5" width="585.4" height="1.3" fill="#d7eed9"/>
<rect x="1375.3" y="610.0" width="585.4" height="1.3" fill="#d7eed9"/>
<rect x="1375.3" y="644.1" width="585.4" height="1.3" fill="#f5d3d8"/>
<rect x="1375.3" y="679.4" width="585.4" height="1.3" fill="#f5d3d8"/>
<rect x="1375.3" y="738.0" width="585.4" height="1.3" fill="#d7eed9"/>
<rect x="1375.3" y="763.5" width="585.4" height="1.3" fill="#d7eed9"/>
<rect x="1375.3" y="798.6" width="585.4" height="1.3" fill="#d7eed9"/>
<rect x="1375.3" y="823.5" width="585.4" height="1.3" fill="#d7eed9"/>
<rect x="1375.3" y="858.8" width="585.4" height="1.3" fill="#f5d3d8"/>
<rect x="1375.3" y="892.9" width="585.4" height="1.3" fill="#f5d3d8"/>
<rect x="1375.3" y="918.5" width="585.4" height="1.3" fill="#f5d3d8"/>
<rect x="1375.3" y="978.1" width="585.4" height="1.3" fill="#d7eed9"/>
<rect x="1375.3" y="1013.0" width="585.4" height="1.3" fill="#d7eed9"/>
<rect x="1375.3" y="1037.8" width="585.4" height="1.3" fill="#d7eed9"/>
<rect x="1375.3" y="1072.0" width="585.4" height="1.3" fill="#d7eed9"/>
<rect x="1375.3" y="1106.8" width="585.4" height="1.3" fill="#d7eed9"/>
<rect x="1375.3" y="1132.3" width="585.4" height="1.3" fill="#d7eed9"/>
<rect x="1375.3" y="1166.5" width="585.4" height="1.3" fill="#d7eed9"/>
</g>
<g id="links" filter="url(#soft)">
<g id="links-halo" stroke="#0b1a0b" stroke-linecap="butt">
<line x1="1401.9" y1="229.27" x2="1935.0" y2="708.24" stroke-width="1.95" stroke-opacity="0.08"/>
<line x1="1401.9" y1="220.71" x2="1935.0" y2="246.37" stroke-width="1.95" stroke-opacity="0.08"/>
<line x1="1401.9" y1="143.74" x2="1935.0" y2="759.55" stroke-width="1.95" stroke-opacity="0.08"/>
<line x1="1401.9" y1="229.27" x2="1935.0" y2="699.68" stroke-width="1.98" stroke-opacity="0.08"/>
<line x1="1401.9" y1="220.71" x2="1935.0" y2="870.74" stroke-width="1.98" stroke-opacity="0.08"/>
<line x1="1401.9" y1="733.89" x2="1935.0" y2="280.59" stroke-width="2.01" stroke-opacity="0.08"/>
<line x1="1401.9" y1="254.93" x2="1935.0" y2="597.05" stroke-width="2.01" stroke-opacity="0.08"/>
<line x1="1401.9" y1="237.82" x2="1935.0" y2="853.64" stroke-width="2.01" stroke-opacity="0.08"/>
<line x1="1401.9" y1="229.27" x2="1935.0" y2="853.64" stroke-width="2.01" stroke-opacity="0.08"/>
<line x1="1401.9" y1="220.71" x2="1935.0" y2="203.61" stroke-width="2.01" stroke-opacity="0.08"/>
<line x1="1401.9" y1="212.16" x2="1935.0" y2="819.42" stroke-width="2.01" stroke-opacity="0.08"/>
<line x1="1401.9" y1="203.61" x2="1935.0" y2="186.50" stroke-width="2.01" stroke-opacity="0.08"/>
<line x1="1401.9" y1="195.05" x2="1935.0" y2="836.53" stroke-width="2.01" stroke-opacity="0.08"/>
<line x1="1401.9" y1="195.05" x2="1935.0" y2="263.48" stroke-width="2.01" stroke-opacity="0.08"/>
<line x1="1401.9" y1="152.29" x2="1935.0" y2="776.66" stroke-width="2.01" stroke-opacity="0.08"/>
<line x1="1401.9" y1="220.71" x2="1935.0" y2="862.19" stroke-width="2.03" stroke-opacity="0.08"/>
<line x1="1401.9" y1="759.55" x2="1935.0" y2="160.84" stroke-width="2.06" stroke-opacity="0.09"/>
<line x1="1401.9" y1="254.93" x2="1935.0" y2="733.89" stroke-width="2.06" stroke-opacity="0.09"/>
<line x1="1401.9" y1="237.82" x2="1935.0" y2="699.68" stroke-width="2.06" stroke-opacity="0.09"/>
<line x1="1401.9" y1="220.71" x2="1935.0" y2="254.93" stroke-width="2.06" stroke-opacity="0.09"/>
<line x1="1401.9" y1="212.16" x2="1935.0" y2="733.89" stroke-width="2.06" stroke-opacity="0.09"/>
<line x1="1401.9" y1="203.61" x2="1935.0" y2="699.68" stroke-width="2.06" stroke-opacity="0.09"/>
<line x1="1401.9" y1="203.61" x2="1935.0" y2="597.05" stroke-width="2.06" stroke-opacity="0.09"/>
<line x1="1401.9" y1="186.50" x2="1935.0" y2="819.42" stroke-width="2.06" stroke-opacity="0.09"/>
<line x1="1401.9" y1="177.95" x2="1935.0" y2="597.05" stroke-width="2.06" stroke-opacity="0.09"/>
<line x1="1401.9" y1="152.29" x2="1935.0" y2="768.11" stroke-width="2.06" stroke-opacity="0.09"/>
<line x1="1401.9" y1="254.93" x2="1935.0" y2="708.24" stroke-width="2.10" stroke-opacity="0.09"/>
<line x1="1401.9" y1="614.15" x2="1935.0" y2="195.05" stroke-width="2.12" stroke-opacity="0.09"/>
<line x1="1401.9" y1="605.60" x2="1935.0" y2="203.61" stroke-width="2.12" stroke-opacity="0.09"/>
<line x1="1401.9" y1="605.60" x2="1935.0" y2="195.05" stroke-width="2.12" stroke-opacity="0.09"/>
<line x1="1401.9" y1="220.71" x2="1935.0" y2="836.53" stroke-width="2.12" stroke-opacity="0.09"/>
<line x1="1401.9" y1="212.16" x2="1935.0" y2="699.68" stroke-width="2.12" stroke-opacity="0.09"/>
<line x1="1401.9" y1="169.40" x2="1935.0" y2="742.45" stroke-width="2.12" stroke-opacity="0.09"/>
<line x1="1401.9" y1="263.48" x2="1935.0" y2="263.48" stroke-width="2.14" stroke-opacity="0.09"/>
<line x1="1401.9" y1="237.82" x2="1935.0" y2="708.24" stroke-width="2.14" stroke-opacity="0.09"/>
<line x1="1401.9" y1="169.40" x2="1935.0" y2="733.89" stroke-width="2.14" stroke-opacity="0.09"/>
<line x1="1401.9" y1="588.49" x2="1935.0" y2="1170.10" stroke-width="2.18" stroke-opacity="0.09"/>
<line x1="1401.9" y1="220.71" x2="1935.0" y2="186.50" stroke-width="2.21" stroke-opacity="0.10"/>
<line x1="1401.9" y1="212.16" x2="1935.0" y2="853.64" stroke-width="2.24" stroke-opacity="0.10"/>
<line x1="1401.9" y1="588.49" x2="1935.0" y2="195.05" stroke-width="2.36" stroke-opacity="0.11"/>
<line x1="1401.9" y1="708.24" x2="1935.0" y2="203.61" stroke-width="2.42" stroke-opacity="0.11"/>
<line x1="1401.9" y1="263.48" x2="1935.0" y2="186.50" stroke-width="2.42" stroke-opacity="0.11"/>
<line x1="1401.9" y1="212.16" x2="1935.0" y2="708.24" stroke-width="2.42" stroke-opacity="0.11"/>
<line x1="1401.9" y1="212.16" x2="1935.0" y2="280.59" stroke-width="2.48" stroke-opacity="0.11"/>
<line x1="1401.9" y1="203.61" x2="1935.0" y2="280.59" stroke-width="2.58" stroke-opacity="0.12"/>
<line x1="1401.9" y1="708.24" x2="1935.0" y2="186.50" stroke-width="2.60" stroke-opacity="0.12"/>
<line x1="1401.9" y1="220.71" x2="1935.0" y2="708.24" stroke-width="2.60" stroke-opacity="0.12"/>
<line x1="1401.9" y1="203.61" x2="1935.0" y2="263.48" stroke-width="2.60" stroke-opacity="0.12"/>
<line x1="1401.9" y1="212.16" x2="1935.0" y2="836.53" stroke-width="2.73" stroke-opacity="0.13"/>
<line x1="1401.9" y1="212.16" x2="1935.0" y2="186.50" stroke-width="2.75" stroke-opacity="0.13"/>
<line x1="1401.9" y1="759.55" x2="1935.0" y2="152.29" stroke-width="2.79" stroke-opacity="0.13"/>
<line x1="1401.9" y1="836.53" x2="1935.0" y2="186.50" stroke-width="2.92" stroke-opacity="0.14"/>
<line x1="1401.9" y1="751.00" x2="1935.0" y2="802.32" stroke-width="2.92" stroke-opacity="0.14"/>
<line x1="1401.9" y1="597.05" x2="1935.0" y2="195.05" stroke-width="2.92" stroke-opacity="0.14"/>
<line x1="1401.9" y1="220.71" x2="1935.0" y2="699.68" stroke-width="2.92" stroke-opacity="0.14"/>
<line x1="1401.9" y1="186.50" x2="1935.0" y2="597.05" stroke-width="2.92" stroke-opacity="0.14"/>
<line x1="1401.9" y1="220.71" x2="1935.0" y2="853.64" stroke-width="3.17" stroke-opacity="0.16"/>
<line x1="1401.9" y1="195.05" x2="1935.0" y2="186.50" stroke-width="3.17" stroke-opacity="0.16"/>
<line x1="1401.9" y1="220.71" x2="1935.0" y2="263.48" stroke-width="3.21" stroke-opacity="0.16"/>
<line x1="1401.9" y1="212.16" x2="1935.0" y2="263.48" stroke-width="3.21" stroke-opacity="0.16"/>
<line x1="1401.9" y1="152.29" x2="1935.0" y2="759.55" stroke-width="3.21" stroke-opacity="0.16"/>
<line x1="1401.9" y1="733.89" x2="1935.0" y2="203.61" stroke-width="3.43" stroke-opacity="0.17"/>
<line x1="1401.9" y1="614.15" x2="1935.0" y2="203.61" stroke-width="3.43" stroke-opacity="0.17"/>
<line x1="1401.9" y1="195.05" x2="1935.0" y2="280.59" stroke-width="3.43" stroke-opacity="0.17"/>
<line x1="1401.9" y1="195.05" x2="1935.0" y2="169.40" stroke-width="3.43" stroke-opacity="0.17"/>
<line x1="1401.9" y1="203.61" x2="1935.0" y2="836.53" stroke-width="3.50" stroke-opacity="0.18"/>
<line x1="1401.9" y1="203.61" x2="1935.0" y2="819.42" stroke-width="3.50" stroke-opacity="0.18"/>
<line x1="1401.9" y1="203.61" x2="1935.0" y2="733.89" stroke-width="3.50" stroke-opacity="0.18"/>
<line x1="1401.9" y1="768.11" x2="1935.0" y2="297.69" stroke-width="3.56" stroke-opacity="0.18"/>
<line x1="1401.9" y1="203.61" x2="1935.0" y2="708.24" stroke-width="3.58" stroke-opacity="0.18"/>
<line x1="1401.9" y1="169.40" x2="1935.0" y2="169.40" stroke-width="3.58" stroke-opacity="0.18"/>
<line x1="1401.9" y1="759.55" x2="1935.0" y2="297.69" stroke-width="3.63" stroke-opacity="0.18"/>
<line x1="1401.9" y1="742.45" x2="1935.0" y2="169.40" stroke-width="3.63" stroke-opacity="0.18"/>
<line x1="1401.9" y1="297.69" x2="1935.0" y2="768.11" stroke-width="3.90" stroke-opacity="0.20"/>
<line x1="1401.9" y1="169.40" x2="1935.0" y2="759.55" stroke-width="3.90" stroke-opacity="0.20"/>
<line x1="1401.9" y1="751.00" x2="1935.0" y2="751.00" stroke-width="3.93" stroke-opacity="0.20"/>
<line x1="1401.9" y1="195.05" x2="1935.0" y2="819.42" stroke-width="3.97" stroke-opacity="0.20"/>
<line x1="1401.9" y1="733.89" x2="1935.0" y2="195.05" stroke-width="4.03" stroke-opacity="0.21"/>
<line x1="1401.9" y1="733.89" x2="1935.0" y2="169.40" stroke-width="4.03" stroke-opacity="0.21"/>
<line x1="1401.9" y1="297.69" x2="1935.0" y2="759.55" stroke-width="4.06" stroke-opacity="0.21"/>
<line x1="1401.9" y1="297.69" x2="1935.0" y2="751.00" stroke-width="4.06" stroke-opacity="0.21"/>
<line x1="1401.9" y1="802.32" x2="1935.0" y2="297.69" stroke-width="4.10" stroke-opacity="0.21"/>
<line x1="1401.9" y1="195.05" x2="1935.0" y2="733.89" stroke-width="4.10" stroke-opacity="0.21"/>
<line x1="1401.9" y1="186.50" x2="1935.0" y2="733.89" stroke-width="4.10" stroke-opacity="0.21"/>
<line x1="1401.9" y1="160.84" x2="1935.0" y2="759.55" stroke-width="4.10" stroke-opacity="0.21"/>
<line x1="1401.9" y1="297.69" x2="1935.0" y2="802.32" stroke-width="4.14" stroke-opacity="0.21"/>
<line x1="1401.9" y1="819.42" x2="1935.0" y2="169.40" stroke-width="4.17" stroke-opacity="0.22"/>
<line x1="1401.9" y1="802.32" x2="1935.0" y2="802.32" stroke-width="4.25" stroke-opacity="0.22"/>
<line x1="1401.9" y1="751.00" x2="1935.0" y2="297.69" stroke-width="4.25" stroke-opacity="0.22"/>
<line x1="1401.9" y1="751.00" x2="1935.0" y2="169.40" stroke-width="4.25" stroke-opacity="0.22"/>
<line x1="1401.9" y1="733.89" x2="1935.0" y2="186.50" stroke-width="4.25" stroke-opacity="0.22"/>
<line x1="1401.9" y1="169.40" x2="1935.0" y2="819.42" stroke-width="4.25" stroke-opacity="0.22"/>
<line x1="1401.9" y1="169.40" x2="1935.0" y2="751.00" stroke-width="4.25" stroke-opacity="0.22"/>
</g>
<line class="ln" x1="1401.9" y1="776.66" x2="1935.0" y2="1118.78" stroke-width="0.01" stroke-opacity="0.45"/>
<line class="ln" x1="1401.9" y1="776.66" x2="1935.0" y2="1110.23" stroke-width="0.01" stroke-opacity="0.45"/>
<line class="ln" x1="1401.9" y1="759.55" x2="1935.0" y2="1127.33" stroke-width="0.01" stroke-opacity="0.45"/>
<line class="ln" x1="1401.9" y1="742.45" x2="1935.0" y2="1170.10" stroke-width="0.01" stroke-opacity="0.45"/>
<line class="ln" x1="1401.9" y1="768.11" x2="1935.0" y2="1127.33" stroke-width="0.01" stroke-opacity="0.45"/>
<line class="ln" x1="1401.9" y1="768.11" x2="1935.0" y2="1118.78" stroke-width="0.01" stroke-opacity="0.45"/>
<line class="ln" x1="1401.9" y1="768.11" x2="1935.0" y2="1101.67" stroke-width="0.01" stroke-opacity="0.45"/>
<line class="ln" x1="1401.9" y1="759.55" x2="1935.0" y2="1161.54" stroke-width="0.01" stroke-opacity="0.45"/>
<line class="ln" x1="1401.9" y1="759.55" x2="1935.0" y2="1144.44" stroke-width="0.01" stroke-opacity="0.45"/>
<line class="ln" x1="1401.9" y1="1170.10" x2="1935.0" y2="622.71" stroke-width="0.02" stroke-opacity="0.45"/>
<line class="ln" x1="1401.9" y1="759.55" x2="1935.0" y2="1152.99" stroke-width="0.02" stroke-opacity="0.45"/>
<line class="ln" x1="1401.9" y1="280.59" x2="1935.0" y2="819.42" stroke-width="0.02" stroke-opacity="0.45"/>
<line class="ln" x1="1401.9" y1="272.03" x2="1935.0" y2="819.42" stroke-width="0.02" stroke-opacity="0.45"/>
<line class="ln" x1="1401.9" y1="263.48" x2="1935.0" y2="169.40" stroke-width="0.02" stroke-opacity="0.45"/>
<line class="ln" x1="1401.9" y1="246.37" x2="1935.0" y2="212.16" stroke-width="0.02" stroke-opacity="0.45"/>
<line class="ln" x1="1401.9" y1="246.37" x2="1935.0" y2="203.61" stroke-width="0.02" stroke-opacity="0.45"/>
<line class="ln" x1="1401.9" y1="237.82" x2="1935.0" y2="913.51" stroke-width="0.02" stroke-opacity="0.45"/>
<line class="ln" x1="1401.9" y1="237.82" x2="1935.0" y2="887.85" stroke-width="0.02" stroke-opacity="0.45"/>
<line class="ln" x1="1401.9" y1="237.82" x2="1935.0" y2="254.93" stroke-width="0.02" stroke-opacity="0.45"/>
<line class="ln" x1="1401.9" y1="237.82" x2="1935.0" y2="246.37" stroke-width="0.02" stroke-opacity="0.45"/>
<line class="ln" x1="1401.9" y1="237.82" x2="1935.0" y2="212.16" stroke-width="0.02" stroke-opacity="0.45"/>
<line class="ln" x1="1401.9" y1="237.82" x2="1935.0" y2="203.61" stroke-width="0.02" stroke-opacity="0.45"/>
<line class="ln" x1="1401.9" y1="186.50" x2="1935.0" y2="751.00" stroke-width="0.02" stroke-opacity="0.45"/>
<line class="ln" x1="1401.9" y1="169.40" x2="1935.0" y2="186.50" stroke-width="0.02" stroke-opacity="0.45"/>
<line class="ln" x1="1401.9" y1="853.64" x2="1935.0" y2="212.16" stroke-width="0.02" stroke-opacity="0.46"/>
<line class="ln" x1="1401.9" y1="819.42" x2="1935.0" y2="280.59" stroke-width="0.02" stroke-opacity="0.46"/>
<line class="ln" x1="1401.9" y1="802.32" x2="1935.0" y2="785.21" stroke-width="0.02" stroke-opacity="0.46"/>
<line class="ln" x1="1401.9" y1="776.66" x2="1935.0" y2="306.24" stroke-width="0.02" stroke-opacity="0.46"/>
<line class="ln" x1="1401.9" y1="768.11" x2="1935.0" y2="135.18" stroke-width="0.02" stroke-opacity="0.46"/>
<line class="ln" x1="1401.9" y1="768.11" x2="1935.0" y2="126.63" stroke-width="0.02" stroke-opacity="0.46"/>
<line class="ln" x1="1401.9" y1="733.89" x2="1935.0" y2="237.82" stroke-width="0.02" stroke-opacity="0.46"/>
<line class="ln" x1="1401.9" y1="725.34" x2="1935.0" y2="203.61" stroke-width="0.02" stroke-opacity="0.46"/>
<line class="ln" x1="1401.9" y1="716.79" x2="1935.0" y2="203.61" stroke-width="0.02" stroke-opacity="0.46"/>
<line class="ln" x1="1401.9" y1="716.79" x2="1935.0" y2="195.05" stroke-width="0.02" stroke-opacity="0.46"/>
<line class="ln" x1="1401.9" y1="691.13" x2="1935.0" y2="263.48" stroke-width="0.02" stroke-opacity="0.46"/>
<line class="ln" x1="1401.9" y1="614.15" x2="1935.0" y2="220.71" stroke-width="0.02" stroke-opacity="0.46"/>
<line class="ln" x1="1401.9" y1="597.05" x2="1935.0" y2="177.95" stroke-width="0.02" stroke-opacity="0.46"/>
<line class="ln" x1="1401.9" y1="588.49" x2="1935.0" y2="220.71" stroke-width="0.02" stroke-opacity="0.46"/>
<line class="ln" x1="1401.9" y1="579.94" x2="1935.0" y2="195.05" stroke-width="0.02" stroke-opacity="0.46"/>
<line class="ln" x1="1401.9" y1="314.80" x2="1935.0" y2="776.66" stroke-width="0.02" stroke-opacity="0.46"/>
<line class="ln" x1="1401.9" y1="263.48" x2="1935.0" y2="853.64" stroke-width="0.02" stroke-opacity="0.46"/>
<line class="ln" x1="1401.9" y1="263.48" x2="1935.0" y2="708.24" stroke-width="0.02" stroke-opacity="0.46"/>
<line class="ln" x1="1401.9" y1="263.48" x2="1935.0" y2="699.68" stroke-width="0.02" stroke-opacity="0.46"/>
<line class="ln" x1="1401.9" y1="246.37" x2="1935.0" y2="819.42" stroke-width="0.02" stroke-opacity="0.46"/>
<line class="ln" x1="1401.9" y1="237.82" x2="1935.0" y2="614.15" stroke-width="0.02" stroke-opacity="0.46"/>
<line class="ln" x1="1401.9" y1="229.27" x2="1935.0" y2="913.51" stroke-width="0.02" stroke-opacity="0.46"/>
<line class="ln" x1="1401.9" y1="229.27" x2="1935.0" y2="733.89" stroke-width="0.02" stroke-opacity="0.46"/>
<line class="ln" x1="1401.9" y1="220.71" x2="1935.0" y2="691.13" stroke-width="0.02" stroke-opacity="0.46"/>
<line class="ln" x1="1401.9" y1="212.16" x2="1935.0" y2="913.51" stroke-width="0.02" stroke-opacity="0.46"/>
<line class="ln" x1="1401.9" y1="203.61" x2="1935.0" y2="614.15" stroke-width="0.02" stroke-opacity="0.46"/>
<line class="ln" x1="1401.9" y1="203.61" x2="1935.0" y2="605.60" stroke-width="0.02" stroke-opacity="0.46"/>
<line class="ln" x1="1401.9" y1="186.50" x2="1935.0" y2="280.59" stroke-width="0.02" stroke-opacity="0.46"/>
<line class="ln" x1="1401.9" y1="186.50" x2="1935.0" y2="263.48" stroke-width="0.02" stroke-opacity="0.46"/>
<line class="ln" x1="1401.9" y1="177.95" x2="1935.0" y2="742.45" stroke-width="0.02" stroke-opacity="0.46"/>
<line class="ln" x1="1401.9" y1="177.95" x2="1935.0" y2="733.89" stroke-width="0.02" stroke-opacity="0.46"/>
<line class="ln" x1="1401.9" y1="169.40" x2="1935.0" y2="297.69" stroke-width="0.02" stroke-opacity="0.46"/>
<line class="ln" x1="1401.9" y1="169.40" x2="1935.0" y2="280.59" stroke-width="0.02" stroke-opacity="0.46"/>
<line class="ln" x1="1401.9" y1="836.53" x2="1935.0" y2="819.42" stroke-width="0.02" stroke-opacity="0.46"/>
<line class="ln" x1="1401.9" y1="802.32" x2="1935.0" y2="306.24" stroke-width="0.02" stroke-opacity="0.46"/>
<line class="ln" x1="1401.9" y1="776.66" x2="1935.0" y2="802.32" stroke-width="0.02" stroke-opacity="0.46"/>
<line class="ln" x1="1401.9" y1="776.66" x2="1935.0" y2="297.69" stroke-width="0.02" stroke-opacity="0.46"/>
<line class="ln" x1="1401.9" y1="768.11" x2="1935.0" y2="143.74" stroke-width="0.02" stroke-opacity="0.46"/>
<line class="ln" x1="1401.9" y1="759.55" x2="1935.0" y2="143.74" stroke-width="0.02" stroke-opacity="0.46"/>
<line class="ln" x1="1401.9" y1="708.24" x2="1935.0" y2="246.37" stroke-width="0.02" stroke-opacity="0.46"/>
<line class="ln" x1="1401.9" y1="708.24" x2="1935.0" y2="237.82" stroke-width="0.02" stroke-opacity="0.46"/>
<line class="ln" x1="1401.9" y1="708.24" x2="1935.0" y2="212.16" stroke-width="0.02" stroke-opacity="0.46"/>
<line class="ln" x1="1401.9" y1="631.26" x2="1935.0" y2="203.61" stroke-width="0.02" stroke-opacity="0.46"/>
<line class="ln" x1="1401.9" y1="212.16" x2="1935.0" y2="614.15" stroke-width="0.02" stroke-opacity="0.46"/>
<line class="ln" x1="1401.9" y1="203.61" x2="1935.0" y2="845.08" stroke-width="0.02" stroke-opacity="0.46"/>
<line class="ln" x1="1401.9" y1="733.89" x2="1935.0" y2="212.16" stroke-width="0.03" stroke-opacity="0.46"/>
<line class="ln" x1="1401.9" y1="853.64" x2="1935.0" y2="263.48" stroke-width="0.03" stroke-opacity="0.46"/>
<line class="ln" x1="1401.9" y1="853.64" x2="1935.0" y2="246.37" stroke-width="0.03" stroke-opacity="0.46"/>
<line class="ln" x1="1401.9" y1="836.53" x2="1935.0" y2="280.59" stroke-width="0.03" stroke-opacity="0.46"/>
<line class="ln" x1="1401.9" y1="819.42" x2="1935.0" y2="751.00" stroke-width="0.03" stroke-opacity="0.46"/>
<line class="ln" x1="1401.9" y1="297.69" x2="1935.0" y2="776.66" stroke-width="0.03" stroke-opacity="0.46"/>
<line class="ln" x1="1401.9" y1="254.93" x2="1935.0" y2="853.64" stroke-width="0.03" stroke-opacity="0.46"/>
<line class="ln" x1="1401.9" y1="254.93" x2="1935.0" y2="588.49" stroke-width="0.03" stroke-opacity="0.46"/>
<line class="ln" x1="1401.9" y1="237.82" x2="1935.0" y2="870.74" stroke-width="0.03" stroke-opacity="0.46"/>
<line class="ln" x1="1401.9" y1="237.82" x2="1935.0" y2="862.19" stroke-width="0.03" stroke-opacity="0.46"/>
<line class="ln" x1="1401.9" y1="237.82" x2="1935.0" y2="733.89" stroke-width="0.03" stroke-opacity="0.46"/>
<line class="ln" x1="1401.9" y1="229.27" x2="1935.0" y2="887.85" stroke-width="0.03" stroke-opacity="0.46"/>
<line class="ln" x1="1401.9" y1="229.27" x2="1935.0" y2="254.93" stroke-width="0.03" stroke-opacity="0.46"/>
<line class="ln" x1="1401.9" y1="229.27" x2="1935.0" y2="246.37" stroke-width="0.03" stroke-opacity="0.46"/>
<line class="ln" x1="1401.9" y1="229.27" x2="1935.0" y2="212.16" stroke-width="0.03" stroke-opacity="0.46"/>
<line class="ln" x1="1401.9" y1="229.27" x2="1935.0" y2="203.61" stroke-width="0.03" stroke-opacity="0.46"/>
<line class="ln" x1="1401.9" y1="220.71" x2="1935.0" y2="588.49" stroke-width="0.03" stroke-opacity="0.46"/>
<line class="ln" x1="1401.9" y1="220.71" x2="1935.0" y2="272.03" stroke-width="0.03" stroke-opacity="0.46"/>
<line class="ln" x1="1401.9" y1="220.71" x2="1935.0" y2="237.82" stroke-width="0.03" stroke-opacity="0.46"/>
<line class="ln" x1="1401.9" y1="212.16" x2="1935.0" y2="862.19" stroke-width="0.03" stroke-opacity="0.46"/>
<line class="ln" x1="1401.9" y1="212.16" x2="1935.0" y2="588.49" stroke-width="0.03" stroke-opacity="0.46"/>
<line class="ln" x1="1401.9" y1="186.50" x2="1935.0" y2="836.53" stroke-width="0.03" stroke-opacity="0.46"/>
<line class="ln" x1="1401.9" y1="819.42" x2="1935.0" y2="186.50" stroke-width="0.04" stroke-opacity="0.46"/>
<line class="ln" x1="1401.9" y1="605.60" x2="1935.0" y2="212.16" stroke-width="0.04" stroke-opacity="0.46"/>
<line class="ln" x1="1401.9" y1="314.80" x2="1935.0" y2="768.11" stroke-width="0.04" stroke-opacity="0.46"/>
<line class="ln" x1="1401.9" y1="254.93" x2="1935.0" y2="280.59" stroke-width="0.04" stroke-opacity="0.46"/>
<line class="ln" x1="1401.9" y1="246.37" x2="1935.0" y2="733.89" stroke-width="0.04" stroke-opacity="0.46"/>
<line class="ln" x1="1401.9" y1="246.37" x2="1935.0" y2="280.59" stroke-width="0.04" stroke-opacity="0.46"/>
<line class="ln" x1="1401.9" y1="220.71" x2="1935.0" y2="913.51" stroke-width="0.04" stroke-opacity="0.46"/>
<line class="ln" x1="1401.9" y1="220.71" x2="1935.0" y2="887.85" stroke-width="0.04" stroke-opacity="0.46"/>
<line class="ln" x1="1401.9" y1="220.71" x2="1935.0" y2="819.42" stroke-width="0.04" stroke-opacity="0.46"/>
<line class="ln" x1="1401.9" y1="212.16" x2="1935.0" y2="272.03" stroke-width="0.04" stroke-opacity="0.46"/>
<line class="ln" x1="1401.9" y1="212.16" x2="1935.0" y2="246.37" stroke-width="0.04" stroke-opacity="0.46"/>
<line class="ln" x1="1401.9" y1="212.16" x2="1935.0" y2="212.16" stroke-width="0.04" stroke-opacity="0.46"/>
<line class="ln" x1="1401.9" y1="212.16" x2="1935.0" y2="195.05" stroke-width="0.04" stroke-opacity="0.46"/>
<line class="ln" x1="1401.9" y1="203.61" x2="1935.0" y2="862.19" stroke-width="0.04" stroke-opacity="0.46"/>
<line class="ln" x1="1401.9" y1="186.50" x2="1935.0" y2="708.24" stroke-width="0.04" stroke-opacity="0.46"/>
<line class="ln" x1="1401.9" y1="802.32" x2="1935.0" y2="768.11" stroke-width="0.05" stroke-opacity="0.46"/>
<line class="ln" x1="1401.9" y1="768.11" x2="1935.0" y2="802.32" stroke-width="0.05" stroke-opacity="0.46"/>
<line class="ln" x1="1401.9" y1="614.15" x2="1935.0" y2="246.37" stroke-width="0.05" stroke-opacity="0.46"/>
<line class="ln" x1="1401.9" y1="614.15" x2="1935.0" y2="237.82" stroke-width="0.05" stroke-opacity="0.46"/>
<line class="ln" x1="1401.9" y1="254.93" x2="1935.0" y2="819.42" stroke-width="0.05" stroke-opacity="0.46"/>
<line class="ln" x1="1401.9" y1="254.93" x2="1935.0" y2="699.68" stroke-width="0.05" stroke-opacity="0.46"/>
<line class="ln" x1="1401.9" y1="237.82" x2="1935.0" y2="836.53" stroke-width="0.05" stroke-opacity="0.46"/>
<line class="ln" x1="1401.9" y1="229.27" x2="1935.0" y2="862.19" stroke-width="0.05" stroke-opacity="0.46"/>
<line class="ln" x1="1401.9" y1="229.27" x2="1935.0" y2="186.50" stroke-width="0.05" stroke-opacity="0.46"/>
<line class="ln" x1="1401.9" y1="195.05" x2="1935.0" y2="708.24" stroke-width="0.05" stroke-opacity="0.46"/>
<line class="ln" x1="1401.9" y1="195.05" x2="1935.0" y2="588.49" stroke-width="0.05" stroke-opacity="0.46"/>
<line class="ln" x1="1401.9" y1="186.50" x2="1935.0" y2="588.49" stroke-width="0.05" stroke-opacity="0.46"/>
<line class="ln" x1="1401.9" y1="160.84" x2="1935.0" y2="751.00" stroke-width="0.05" stroke-opacity="0.46"/>
<line class="ln" x1="1401.9" y1="263.48" x2="1935.0" y2="733.89" stroke-width="0.06" stroke-opacity="0.47"/>
<line class="ln" x1="1401.9" y1="263.48" x2="1935.0" y2="203.61" stroke-width="0.06" stroke-opacity="0.47"/>
<line class="ln" x1="1401.9" y1="237.82" x2="1935.0" y2="186.50" stroke-width="0.06" stroke-opacity="0.47"/>
<line class="ln" x1="1401.9" y1="220.71" x2="1935.0" y2="280.59" stroke-width="0.06" stroke-opacity="0.47"/>
<line class="ln" x1="1401.9" y1="220.71" x2="1935.0" y2="212.16" stroke-width="0.06" stroke-opacity="0.47"/>
<line class="ln" x1="1401.9" y1="220.71" x2="1935.0" y2="195.05" stroke-width="0.06" stroke-opacity="0.47"/>
<line class="ln" x1="1401.9" y1="691.13" x2="1935.0" y2="186.50" stroke-width="0.07" stroke-opacity="0.47"/>
<line class="ln" x1="1401.9" y1="597.05" x2="1935.0" y2="186.50" stroke-width="0.07" stroke-opacity="0.47"/>
<line class="ln" x1="1401.9" y1="263.48" x2="1935.0" y2="836.53" stroke-width="0.07" stroke-opacity="0.47"/>
<line class="ln" x1="1401.9" y1="254.93" x2="1935.0" y2="836.53" stroke-width="0.07" stroke-opacity="0.47"/>
<line class="ln" x1="1401.9" y1="246.37" x2="1935.0" y2="836.53" stroke-width="0.07" stroke-opacity="0.47"/>
<line class="ln" x1="1401.9" y1="212.16" x2="1935.0" y2="254.93" stroke-width="0.07" stroke-opacity="0.47"/>
<line class="ln" x1="1401.9" y1="177.95" x2="1935.0" y2="588.49" stroke-width="0.07" stroke-opacity="0.47"/>
<line class="ln" x1="1401.9" y1="708.24" x2="1935.0" y2="195.05" stroke-width="0.08" stroke-opacity="0.47"/>
<line class="ln" x1="1401.9" y1="263.48" x2="1935.0" y2="819.42" stroke-width="0.08" stroke-opacity="0.47"/>
<line class="ln" x1="1401.9" y1="853.64" x2="1935.0" y2="203.61" stroke-width="0.09" stroke-opacity="0.47"/>
<line class="ln" x1="1401.9" y1="853.64" x2="1935.0" y2="186.50" stroke-width="0.09" stroke-opacity="0.47"/>
<line class="ln" x1="1401.9" y1="229.27" x2="1935.0" y2="870.74" stroke-width="0.09" stroke-opacity="0.47"/>
<line class="ln" x1="1401.9" y1="229.27" x2="1935.0" y2="614.15" stroke-width="0.09" stroke-opacity="0.47"/>
<line class="ln" x1="1401.9" y1="203.61" x2="1935.0" y2="588.49" stroke-width="0.09" stroke-opacity="0.47"/>
<line class="ln" x1="1401.9" y1="836.53" x2="1935.0" y2="203.61" stroke-width="0.11" stroke-opacity="0.48"/>
<line class="ln" x1="1401.9" y1="588.49" x2="1935.0" y2="212.16" stroke-width="0.11" stroke-opacity="0.48"/>
<line class="ln" x1="1401.9" y1="220.71" x2="1935.0" y2="597.05" stroke-width="0.11" stroke-opacity="0.48"/>
<line class="ln" x1="1401.9" y1="212.16" x2="1935.0" y2="597.05" stroke-width="0.11" stroke-opacity="0.48"/>
<line class="ln" x1="1401.9" y1="759.55" x2="1935.0" y2="169.40" stroke-width="0.12" stroke-opacity="0.48"/>
<line class="ln" x1="1401.9" y1="597.05" x2="1935.0" y2="1170.10" stroke-width="0.12" stroke-opacity="0.48"/>
<line class="ln" x1="1401.9" y1="263.48" x2="1935.0" y2="280.59" stroke-width="0.12" stroke-opacity="0.48"/>
<line class="ln" x1="1401.9" y1="254.93" x2="1935.0" y2="186.50" stroke-width="0.12" stroke-opacity="0.48"/>
<line class="ln" x1="1401.9" y1="246.37" x2="1935.0" y2="853.64" stroke-width="0.12" stroke-opacity="0.48"/>
<line class="ln" x1="1401.9" y1="246.37" x2="1935.0" y2="186.50" stroke-width="0.12" stroke-opacity="0.48"/>
<line class="ln" x1="1401.9" y1="186.50" x2="1935.0" y2="742.45" stroke-width="0.12" stroke-opacity="0.48"/>
<line class="ln" x1="1401.9" y1="579.94" x2="1935.0" y2="1170.10" stroke-width="0.13" stroke-opacity="0.48"/>
<line class="ln" x1="1401.9" y1="836.53" x2="1935.0" y2="263.48" stroke-width="0.14" stroke-opacity="0.49"/>
<line class="ln" x1="1401.9" y1="768.11" x2="1935.0" y2="306.24" stroke-width="0.14" stroke-opacity="0.49"/>
<line class="ln" x1="1401.9" y1="751.00" x2="1935.0" y2="160.84" stroke-width="0.14" stroke-opacity="0.49"/>
<line class="ln" x1="1401.9" y1="691.13" x2="1935.0" y2="203.61" stroke-width="0.14" stroke-opacity="0.49"/>
<line class="ln" x1="1401.9" y1="614.15" x2="1935.0" y2="186.50" stroke-width="0.14" stroke-opacity="0.49"/>
<line class="ln" x1="1401.9" y1="254.93" x2="1935.0" y2="263.48" stroke-width="0.14" stroke-opacity="0.49"/>
<line class="ln" x1="1401.9" y1="220.71" x2="1935.0" y2="733.89" stroke-width="0.14" stroke-opacity="0.49"/>
<line class="ln" x1="1401.9" y1="220.71" x2="1935.0" y2="614.15" stroke-width="0.14" stroke-opacity="0.49"/>
<line class="ln" x1="1401.9" y1="203.61" x2="1935.0" y2="853.64" stroke-width="0.14" stroke-opacity="0.49"/>
<line class="ln" x1="1401.9" y1="195.05" x2="1935.0" y2="597.05" stroke-width="0.14" stroke-opacity="0.49"/>
<line class="ln" x1="1401.9" y1="229.27" x2="1935.0" y2="263.48" stroke-width="0.16" stroke-opacity="0.49"/>
<line class="ln" x1="1401.9" y1="212.16" x2="1935.0" y2="203.61" stroke-width="0.16" stroke-opacity="0.49"/>
<line class="ln" x1="1401.9" y1="708.24" x2="1935.0" y2="263.48" stroke-width="0.17" stroke-opacity="0.49"/>
<line class="ln" x1="1401.9" y1="614.15" x2="1935.0" y2="263.48" stroke-width="0.17" stroke-opacity="0.49"/>
<line class="ln" x1="1401.9" y1="597.05" x2="1935.0" y2="203.61" stroke-width="0.17" stroke-opacity="0.49"/>
<line class="ln" x1="1401.9" y1="802.32" x2="1935.0" y2="751.00" stroke-width="0.20" stroke-opacity="0.50"/>
<line class="ln" x1="1401.9" y1="768.11" x2="1935.0" y2="152.29" stroke-width="0.20" stroke-opacity="0.50"/>
<line class="ln" x1="1401.9" y1="751.00" x2="1935.0" y2="819.42" stroke-width="0.20" stroke-opacity="0.50"/>
<line class="ln" x1="1401.9" y1="733.89" x2="1935.0" y2="263.48" stroke-width="0.20" stroke-opacity="0.50"/>
<line class="ln" x1="1401.9" y1="733.89" x2="1935.0" y2="177.95" stroke-width="0.20" stroke-opacity="0.50"/>
<line class="ln" x1="1401.9" y1="614.15" x2="1935.0" y2="212.16" stroke-width="0.20" stroke-opacity="0.50"/>
<line class="ln" x1="1401.9" y1="588.49" x2="1935.0" y2="203.61" stroke-width="0.20" stroke-opacity="0.50"/>
<line class="ln" x1="1401.9" y1="246.37" x2="1935.0" y2="699.68" stroke-width="0.20" stroke-opacity="0.50"/>
<line class="ln" x1="1401.9" y1="246.37" x2="1935.0" y2="708.24" stroke-width="0.22" stroke-opacity="0.50"/>
<line class="ln" x1="1401.9" y1="246.37" x2="1935.0" y2="263.48" stroke-width="0.22" stroke-opacity="0.50"/>
<line class="ln" x1="1401.9" y1="237.82" x2="1935.0" y2="263.48" stroke-width="0.23" stroke-opacity="0.51"/>
<line class="ln" x1="1401.9" y1="229.27" x2="1935.0" y2="708.24" stroke-width="0.25" stroke-opacity="0.51"/>
<line class="ln" x1="1401.9" y1="220.71" x2="1935.0" y2="246.37" stroke-width="0.25" stroke-opacity="0.51"/>
<line class="ln" x1="1401.9" y1="143.74" x2="1935.0" y2="759.55" stroke-width="0.25" stroke-opacity="0.51"/>
<line class="ln" x1="1401.9" y1="229.27" x2="1935.0" y2="699.68" stroke-width="0.28" stroke-opacity="0.52"/>
<line class="ln" x1="1401.9" y1="220.71" x2="1935.0" y2="870.74" stroke-width="0.28" stroke-opacity="0.52"/>
<line class="ln" x1="1401.9" y1="733.89" x2="1935.0" y2="280.59" stroke-width="0.31" stroke-opacity="0.52"/>
<line class="ln" x1="1401.9" y1="254.93" x2="1935.0" y2="597.05" stroke-width="0.31" stroke-opacity="0.52"/>
<line class="ln" x1="1401.9" y1="237.82" x2="1935.0" y2="853.64" stroke-width="0.31" stroke-opacity="0.52"/>
<line class="ln" x1="1401.9" y1="229.27" x2="1935.0" y2="853.64" stroke-width="0.31" stroke-opacity="0.52"/>
<line class="ln" x1="1401.9" y1="220.71" x2="1935.0" y2="203.61" stroke-width="0.31" stroke-opacity="0.52"/>
<line class="ln" x1="1401.9" y1="212.16" x2="1935.0" y2="819.42" stroke-width="0.31" stroke-opacity="0.52"/>
<line class="ln" x1="1401.9" y1="203.61" x2="1935.0" y2="186.50" stroke-width="0.31" stroke-opacity="0.52"/>
<line class="ln" x1="1401.9" y1="195.05" x2="1935.0" y2="836.53" stroke-width="0.31" stroke-opacity="0.52"/>
<line class="ln" x1="1401.9" y1="195.05" x2="1935.0" y2="263.48" stroke-width="0.31" stroke-opacity="0.52"/>
<line class="ln" x1="1401.9" y1="152.29" x2="1935.0" y2="776.66" stroke-width="0.31" stroke-opacity="0.52"/>
<line class="ln" x1="1401.9" y1="220.71" x2="1935.0" y2="862.19" stroke-width="0.33" stroke-opacity="0.53"/>
<line class="ln" x1="1401.9" y1="759.55" x2="1935.0" y2="160.84" stroke-width="0.36" stroke-opacity="0.53"/>
<line class="ln" x1="1401.9" y1="254.93" x2="1935.0" y2="733.89" stroke-width="0.36" stroke-opacity="0.53"/>
<line class="ln" x1="1401.9" y1="237.82" x2="1935.0" y2="699.68" stroke-width="0.36" stroke-opacity="0.53"/>
<line class="ln" x1="1401.9" y1="220.71" x2="1935.0" y2="254.93" stroke-width="0.36" stroke-opacity="0.53"/>
<line class="ln" x1="1401.9" y1="212.16" x2="1935.0" y2="733.89" stroke-width="0.36" stroke-opacity="0.53"/>
<line class="ln" x1="1401.9" y1="203.61" x2="1935.0" y2="699.68" stroke-width="0.36" stroke-opacity="0.53"/>
<line class="ln" x1="1401.9" y1="203.61" x2="1935.0" y2="597.05" stroke-width="0.36" stroke-opacity="0.53"/>
<line class="ln" x1="1401.9" y1="186.50" x2="1935.0" y2="819.42" stroke-width="0.36" stroke-opacity="0.53"/>
<line class="ln" x1="1401.9" y1="177.95" x2="1935.0" y2="597.05" stroke-width="0.36" stroke-opacity="0.53"/>
<line class="ln" x1="1401.9" y1="152.29" x2="1935.0" y2="768.11" stroke-width="0.36" stroke-opacity="0.53"/>
<line class="ln" x1="1401.9" y1="254.93" x2="1935.0" y2="708.24" stroke-width="0.40" stroke-opacity="0.54"/>
<line class="ln" x1="1401.9" y1="614.15" x2="1935.0" y2="195.05" stroke-width="0.42" stroke-opacity="0.55"/>
<line class="ln" x1="1401.9" y1="605.60" x2="1935.0" y2="203.61" stroke-width="0.42" stroke-opacity="0.55"/>
<line class="ln" x1="1401.9" y1="605.60" x2="1935.0" y2="195.05" stroke-width="0.42" stroke-opacity="0.55"/>
<line class="ln" x1="1401.9" y1="220.71" x2="1935.0" y2="836.53" stroke-width="0.42" stroke-opacity="0.55"/>
<line class="ln" x1="1401.9" y1="212.16" x2="1935.0" y2="699.68" stroke-width="0.42" stroke-opacity="0.55"/>
<line class="ln" x1="1401.9" y1="169.40" x2="1935.0" y2="742.45" stroke-width="0.42" stroke-opacity="0.55"/>
<line class="ln" x1="1401.9" y1="263.48" x2="1935.0" y2="263.48" stroke-width="0.44" stroke-opacity="0.55"/>
<line class="ln" x1="1401.9" y1="237.82" x2="1935.0" y2="708.24" stroke-width="0.44" stroke-opacity="0.55"/>
<line class="ln" x1="1401.9" y1="169.40" x2="1935.0" y2="733.89" stroke-width="0.44" stroke-opacity="0.55"/>
<line class="ln" x1="1401.9" y1="588.49" x2="1935.0" y2="1170.10" stroke-width="0.48" stroke-opacity="0.56"/>
<line class="ln" x1="1401.9" y1="220.71" x2="1935.0" y2="186.50" stroke-width="0.51" stroke-opacity="0.57"/>
<line class="ln" x1="1401.9" y1="212.16" x2="1935.0" y2="853.64" stroke-width="0.54" stroke-opacity="0.57"/>
<line class="ln" x1="1401.9" y1="588.49" x2="1935.0" y2="195.05" stroke-width="0.66" stroke-opacity="0.60"/>
<line class="ln" x1="1401.9" y1="708.24" x2="1935.0" y2="203.61" stroke-width="0.72" stroke-opacity="0.61"/>
<line class="ln" x1="1401.9" y1="263.48" x2="1935.0" y2="186.50" stroke-width="0.72" stroke-opacity="0.61"/>
<line class="ln" x1="1401.9" y1="212.16" x2="1935.0" y2="708.24" stroke-width="0.72" stroke-opacity="0.61"/>
<line class="ln" x1="1401.9" y1="212.16" x2="1935.0" y2="280.59" stroke-width="0.78" stroke-opacity="0.62"/>
<line class="ln" x1="1401.9" y1="203.61" x2="1935.0" y2="280.59" stroke-width="0.88" stroke-opacity="0.64"/>
<line class="ln" x1="1401.9" y1="708.24" x2="1935.0" y2="186.50" stroke-width="0.90" stroke-opacity="0.64"/>
<line class="ln" x1="1401.9" y1="220.71" x2="1935.0" y2="708.24" stroke-width="0.90" stroke-opacity="0.64"/>
<line class="ln" x1="1401.9" y1="203.61" x2="1935.0" y2="263.48" stroke-width="0.90" stroke-opacity="0.64"/>
<line class="ln" x1="1401.9" y1="212.16" x2="1935.0" y2="836.53" stroke-width="1.03" stroke-opacity="0.67"/>
<line class="ln" x1="1401.9" y1="212.16" x2="1935.0" y2="186.50" stroke-width="1.05" stroke-opacity="0.67"/>
<line class="ln" x1="1401.9" y1="759.55" x2="1935.0" y2="152.29" stroke-width="1.09" stroke-opacity="0.68"/>
<line class="ln" x1="1401.9" y1="836.53" x2="1935.0" y2="186.50" stroke-width="1.22" stroke-opacity="0.70"/>
<line class="ln" x1="1401.9" y1="751.00" x2="1935.0" y2="802.32" stroke-width="1.22" stroke-opacity="0.70"/>
<line class="ln" x1="1401.9" y1="597.05" x2="1935.0" y2="195.05" stroke-width="1.22" stroke-opacity="0.70"/>
<line class="ln" x1="1401.9" y1="220.71" x2="1935.0" y2="699.68" stroke-width="1.22" stroke-opacity="0.70"/>
<line class="ln" x1="1401.9" y1="186.50" x2="1935.0" y2="597.05" stroke-width="1.22" stroke-opacity="0.70"/>
<line class="ln" x1="1401.9" y1="220.71" x2="1935.0" y2="853.64" stroke-width="1.47" stroke-opacity="0.75"/>
<line class="ln" x1="1401.9" y1="195.05" x2="1935.0" y2="186.50" stroke-width="1.47" stroke-opacity="0.75"/>
<line class="ln" x1="1401.9" y1="220.71" x2="1935.0" y2="263.48" stroke-width="1.51" stroke-opacity="0.76"/>
<line class="ln" x1="1401.9" y1="212.16" x2="1935.0" y2="263.48" stroke-width="1.51" stroke-opacity="0.76"/>
<line class="ln" x1="1401.9" y1="152.29" x2="1935.0" y2="759.55" stroke-width="1.51" stroke-opacity="0.76"/>
<line class="ln" x1="1401.9" y1="733.89" x2="1935.0" y2="203.61" stroke-width="1.73" stroke-opacity="0.80"/>
<line class="ln" x1="1401.9" y1="614.15" x2="1935.0" y2="203.61" stroke-width="1.73" stroke-opacity="0.80"/>
<line class="ln" x1="1401.9" y1="195.05" x2="1935.0" y2="280.59" stroke-width="1.73" stroke-opacity="0.80"/>
<line class="ln" x1="1401.9" y1="195.05" x2="1935.0" y2="169.40" stroke-width="1.73" stroke-opacity="0.80"/>
<line class="ln" x1="1401.9" y1="203.61" x2="1935.0" y2="836.53" stroke-width="1.80" stroke-opacity="0.81"/>
<line class="ln" x1="1401.9" y1="203.61" x2="1935.0" y2="819.42" stroke-width="1.80" stroke-opacity="0.81"/>
<line class="ln" x1="1401.9" y1="203.61" x2="1935.0" y2="733.89" stroke-width="1.80" stroke-opacity="0.81"/>
<line class="ln" x1="1401.9" y1="768.11" x2="1935.0" y2="297.69" stroke-width="1.86" stroke-opacity="0.83"/>
<line class="ln" x1="1401.9" y1="203.61" x2="1935.0" y2="708.24" stroke-width="1.88" stroke-opacity="0.83"/>
<line class="ln" x1="1401.9" y1="169.40" x2="1935.0" y2="169.40" stroke-width="1.88" stroke-opacity="0.83"/>
<line class="ln" x1="1401.9" y1="759.55" x2="1935.0" y2="297.69" stroke-width="1.93" stroke-opacity="0.84"/>
<line class="ln" x1="1401.9" y1="742.45" x2="1935.0" y2="169.40" stroke-width="1.93" stroke-opacity="0.84"/>
<line class="ln" x1="1401.9" y1="297.69" x2="1935.0" y2="768.11" stroke-width="2.20" stroke-opacity="0.89"/>
<line class="ln" x1="1401.9" y1="169.40" x2="1935.0" y2="759.55" stroke-width="2.20" stroke-opacity="0.89"/>
<line class="ln" x1="1401.9" y1="751.00" x2="1935.0" y2="751.00" stroke-width="2.23" stroke-opacity="0.89"/>
<line class="ln" x1="1401.9" y1="195.05" x2="1935.0" y2="819.42" stroke-width="2.27" stroke-opacity="0.90"/>
<line class="ln" x1="1401.9" y1="733.89" x2="1935.0" y2="195.05" stroke-width="2.33" stroke-opacity="0.91"/>
<line class="ln" x1="1401.9" y1="733.89" x2="1935.0" y2="169.40" stroke-width="2.33" stroke-opacity="0.91"/>
<line class="ln" x1="1401.9" y1="297.69" x2="1935.0" y2="759.55" stroke-width="2.36" stroke-opacity="0.92"/>
<line class="ln" x1="1401.9" y1="297.69" x2="1935.0" y2="751.00" stroke-width="2.36" stroke-opacity="0.92"/>
<line class="ln" x1="1401.9" y1="802.32" x2="1935.0" y2="297.69" stroke-width="2.40" stroke-opacity="0.92"/>
<line class="ln" x1="1401.9" y1="195.05" x2="1935.0" y2="733.89" stroke-width="2.40" stroke-opacity="0.92"/>
<line class="ln" x1="1401.9" y1="186.50" x2="1935.0" y2="733.89" stroke-width="2.40" stroke-opacity="0.92"/>
<line class="ln" x1="1401.9" y1="160.84" x2="1935.0" y2="759.55" stroke-width="2.40" stroke-opacity="0.92"/>
<line class="ln" x1="1401.9" y1="297.69" x2="1935.0" y2="802.32" stroke-width="2.44" stroke-opacity="0.93"/>
<line class="ln" x1="1401.9" y1="819.42" x2="1935.0" y2="169.40" stroke-width="2.47" stroke-opacity="0.94"/>
<line class="ln" x1="1401.9" y1="802.32" x2="1935.0" y2="802.32" stroke-width="2.55" stroke-opacity="0.95"/>
<line class="ln" x1="1401.9" y1="751.00" x2="1935.0" y2="297.69" stroke-width="2.55" stroke-opacity="0.95"/>
<line class="ln" x1="1401.9" y1="751.00" x2="1935.0" y2="169.40" stroke-width="2.55" stroke-opacity="0.95"/>
<line class="ln" x1="1401.9" y1="733.89" x2="1935.0" y2="186.50" stroke-width="2.55" stroke-opacity="0.95"/>
<line class="ln" x1="1401.9" y1="169.40" x2="1935.0" y2="819.42" stroke-width="2.55" stroke-opacity="0.95"/>
<line class="ln" x1="1401.9" y1="169.40" x2="1935.0" y2="751.00" stroke-width="2.55" stroke-opacity="0.95"/>
</g>
<g id="axes">
<line x1="1401.9" y1="47.3" x2="1401.9" y2="1196" stroke="#1c1c1c" stroke-width="1.6"/>
<line x1="1935.0" y1="47.3" x2="1935.0" y2="1196" stroke="#1c1c1c" stroke-width="1.6"/>
<text class="pt" x="1408.4" y="84.00">128</text>
<text class="pt" x="1941.3" y="84.00">128</text>
<text class="pt" x="1408.4" y="152.50">120</text>
<text class="pt" x="1941.3" y="152.50">120</text>
<text class="pt" x="1408.4" y="238.12">110</text>
<text class="pt" x="1941.3" y="238.12">110</text>
<text class="pt" x="1408.4" y="323.74">100</text>
<text class="pt" x="1941.3" y="323.74">100</text>
<text class="pt" x="1408.4" y="409.36">90</text>
<text class="pt" x="1941.3" y="409.36">90</text>
<text class="pt" x="1408.4" y="494.98">80</text>
<text class="pt" x="1941.3" y="494.98">80</text>
<text class="pt" x="1408.4" y="580.60">70</text>
<text class="pt" x="1941.3" y="580.60">70</text>
<text class="pt" x="1408.4" y="666.22">60</text>
<text class="pt" x="1941.3" y="666.22">60</text>
<text class="pt" x="1408.4" y="751.84">50</text>
<text class="pt" x="1941.3" y="751.84">50</text>
<text class="pt" x="1408.4" y="837.46">40</text>
<text class="pt" x="1941.3" y="837.46">40</text>
<text class="pt" x="1408.4" y="923.08">30</text>
<text class="pt" x="1941.3" y="923.08">30</text>
<text class="pt" x="1408.4" y="1008.70">20</text>
<text class="pt" x="1941.3" y="1008.70">20</text>
<text class="pt" x="1408.4" y="1094.32">10</text>
<text class="pt" x="1941.3" y="1094.32">10</text>
<text class="pt" x="1408.4" y="1171.37">1</text>
<text class="pt" x="1941.3" y="1171.37">1</text>
<text class="ph" x="1402.6" y="21.5">Heavy</text><text class="ph" x="1401.6" y="49.7">chain</text>
<text class="ph" x="1935.6" y="21.5">Light</text><text class="ph" x="1934.6" y="49.7">chain</text>
</g>
<g id="legend">
<rect x="1588.5" y="56.6" width="160" height="58.7" rx="4" ry="4" fill="#ffffff" fill-opacity="0.8" stroke="#d4d4d4" stroke-width="1.3"/>
<rect x="1591.5" y="67.5" width="42.5" height="9" fill="#e2f4e4"/>
<rect x="1591.5" y="94.5" width="42.5" height="9" fill="#f5e1e2"/>
<text class="lg" x="1644.8" y="77.7">Framework</text>
<text class="lg" x="1644.8" y="104.7">CDR</text>
</g>
</g>
</svg></body></html>
